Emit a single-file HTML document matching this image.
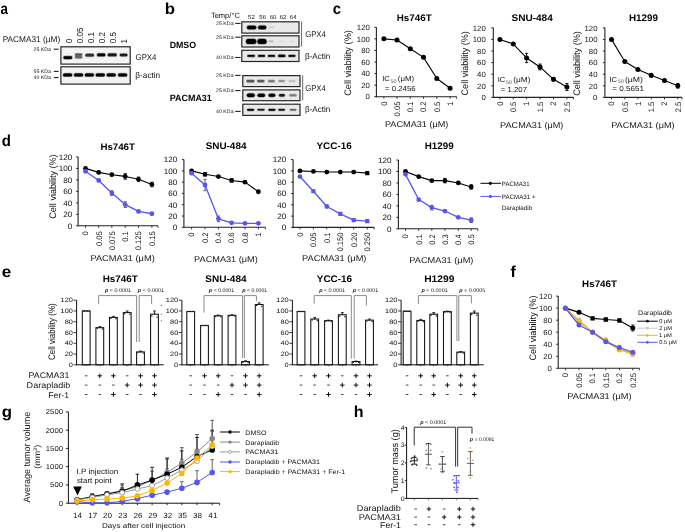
<!DOCTYPE html><html><head><meta charset="utf-8"><title>Figure</title><style>html,body{margin:0;padding:0;background:#fff;overflow:hidden;}svg{display:block;will-change:transform;}text{font-family:"Liberation Sans",sans-serif;text-rendering:geometricPrecision;}</style></head><body>
<svg width="685" height="532" viewBox="0 0 685 532" font-family="Liberation Sans, sans-serif">
<defs><filter id="bl" x="-50%" y="-100%" width="200%" height="300%"><feGaussianBlur stdDeviation="0.7"/></filter></defs>
<rect width="685" height="532" fill="#fff"/>
<text x="0.55" y="14.00" font-size="15.8" font-weight="bold" fill="#000" textLength="7.48" lengthAdjust="spacingAndGlyphs">a</text>
<text x="164.76" y="13.60" font-size="15.8" font-weight="bold" fill="#000" textLength="10.28" lengthAdjust="spacingAndGlyphs">b</text>
<text x="332.66" y="13.60" font-size="15.8" font-weight="bold" fill="#000" textLength="8.26" lengthAdjust="spacingAndGlyphs">c</text>
<text x="1.65" y="146.20" font-size="15.8" font-weight="bold" fill="#000" textLength="9.19" lengthAdjust="spacingAndGlyphs">d</text>
<text x="1.67" y="276.80" font-size="15.8" font-weight="bold" fill="#000" textLength="9.50" lengthAdjust="spacingAndGlyphs">e</text>
<text x="510.51" y="276.60" font-size="15.8" font-weight="bold" fill="#000" textLength="5.31" lengthAdjust="spacingAndGlyphs">f</text>
<text x="1.68" y="417.20" font-size="15.8" font-weight="bold" fill="#000" textLength="10.28" lengthAdjust="spacingAndGlyphs">g</text>
<text x="353.73" y="417.20" font-size="15.8" font-weight="bold" fill="#000" textLength="9.80" lengthAdjust="spacingAndGlyphs">h</text>
<text x="2.69" y="42.00" font-size="8.3" fill="#111" textLength="57.48" lengthAdjust="spacingAndGlyphs">PACMA31 (μM)</text>
<text transform="translate(72.14,43.17) scale(1.1,1) rotate(-90)" font-size="7.9" fill="#111" textLength="4.48" lengthAdjust="spacingAndGlyphs">0</text>
<text transform="translate(83.14,43.17) scale(1.1,1) rotate(-90)" font-size="7.9" fill="#111" textLength="15.68" lengthAdjust="spacingAndGlyphs">0.05</text>
<text transform="translate(93.94,43.17) scale(1.1,1) rotate(-90)" font-size="7.9" fill="#111" textLength="11.20" lengthAdjust="spacingAndGlyphs">0.1</text>
<text transform="translate(104.74,43.17) scale(1.1,1) rotate(-90)" font-size="7.9" fill="#111" textLength="11.20" lengthAdjust="spacingAndGlyphs">0.2</text>
<text transform="translate(115.84,43.17) scale(1.1,1) rotate(-90)" font-size="7.9" fill="#111" textLength="11.20" lengthAdjust="spacingAndGlyphs">0.5</text>
<text transform="translate(127.04,43.45) scale(1.1,1) rotate(-90)" font-size="7.9" fill="#111" textLength="4.48" lengthAdjust="spacingAndGlyphs">1</text>
<rect x="60.90" y="46.80" width="69.30" height="17.30" fill="#f4f4f4" stroke="#262626" stroke-width="1.2"/>
<rect x="60.90" y="66.80" width="69.30" height="17.30" fill="#f2f2f2" stroke="#262626" stroke-width="1.2"/>
<rect x="62.60" y="55.30" width="10.40" height="4.60" rx="2.30" fill="#000" opacity="0.160"/>
<rect x="63.05" y="55.75" width="9.50" height="3.70" rx="1.85" fill="#000" opacity="0.320"/>
<rect x="63.50" y="56.20" width="8.60" height="2.80" rx="1.40" fill="#000" opacity="1.0"/>
<rect x="74.10" y="52.50" width="9.00" height="4.20" rx="2.10" fill="#333" opacity="0.115"/>
<rect x="74.55" y="52.95" width="8.10" height="3.30" rx="1.65" fill="#333" opacity="0.230"/>
<rect x="75.00" y="53.40" width="7.20" height="2.40" rx="1.20" fill="#333" opacity="0.72"/>
<rect x="74.10" y="55.10" width="9.00" height="4.20" rx="2.10" fill="#444" opacity="0.109"/>
<rect x="74.55" y="55.55" width="8.10" height="3.30" rx="1.65" fill="#444" opacity="0.218"/>
<rect x="75.00" y="56.00" width="7.20" height="2.40" rx="1.20" fill="#444" opacity="0.68"/>
<rect x="84.60" y="52.90" width="10.20" height="4.60" rx="2.30" fill="#222" opacity="0.144"/>
<rect x="85.05" y="53.35" width="9.30" height="3.70" rx="1.85" fill="#222" opacity="0.288"/>
<rect x="85.50" y="53.80" width="8.40" height="2.80" rx="1.40" fill="#222" opacity="0.9"/>
<rect x="96.20" y="52.60" width="10.00" height="4.60" rx="2.30" fill="#000" opacity="0.160"/>
<rect x="96.65" y="53.05" width="9.10" height="3.70" rx="1.85" fill="#000" opacity="0.320"/>
<rect x="97.10" y="53.50" width="8.20" height="2.80" rx="1.40" fill="#000" opacity="1.0"/>
<rect x="106.80" y="52.60" width="10.80" height="4.60" rx="2.30" fill="#111" opacity="0.152"/>
<rect x="107.25" y="53.05" width="9.90" height="3.70" rx="1.85" fill="#111" opacity="0.304"/>
<rect x="107.70" y="53.50" width="9.00" height="2.80" rx="1.40" fill="#111" opacity="0.95"/>
<rect x="118.90" y="52.80" width="9.40" height="4.40" rx="2.20" fill="#111" opacity="0.144"/>
<rect x="119.35" y="53.25" width="8.50" height="3.50" rx="1.75" fill="#111" opacity="0.288"/>
<rect x="119.80" y="53.70" width="7.60" height="2.60" rx="1.30" fill="#111" opacity="0.9"/>
<rect x="62.20" y="72.50" width="10.80" height="4.80" rx="2.40" fill="#000" opacity="0.160"/>
<rect x="62.65" y="72.95" width="9.90" height="3.90" rx="1.95" fill="#000" opacity="0.320"/>
<rect x="63.10" y="73.40" width="9.00" height="3.00" rx="1.50" fill="#000" opacity="1.0"/>
<rect x="73.10" y="72.50" width="10.80" height="4.80" rx="2.40" fill="#000" opacity="0.160"/>
<rect x="73.55" y="72.95" width="9.90" height="3.90" rx="1.95" fill="#000" opacity="0.320"/>
<rect x="74.00" y="73.40" width="9.00" height="3.00" rx="1.50" fill="#000" opacity="1.0"/>
<rect x="84.00" y="72.50" width="10.80" height="4.80" rx="2.40" fill="#000" opacity="0.160"/>
<rect x="84.45" y="72.95" width="9.90" height="3.90" rx="1.95" fill="#000" opacity="0.320"/>
<rect x="84.90" y="73.40" width="9.00" height="3.00" rx="1.50" fill="#000" opacity="1.0"/>
<rect x="94.90" y="72.50" width="10.80" height="4.80" rx="2.40" fill="#000" opacity="0.160"/>
<rect x="95.35" y="72.95" width="9.90" height="3.90" rx="1.95" fill="#000" opacity="0.320"/>
<rect x="95.80" y="73.40" width="9.00" height="3.00" rx="1.50" fill="#000" opacity="1.0"/>
<rect x="105.80" y="72.50" width="10.80" height="4.80" rx="2.40" fill="#000" opacity="0.160"/>
<rect x="106.25" y="72.95" width="9.90" height="3.90" rx="1.95" fill="#000" opacity="0.320"/>
<rect x="106.70" y="73.40" width="9.00" height="3.00" rx="1.50" fill="#000" opacity="1.0"/>
<rect x="117.20" y="72.50" width="10.80" height="4.80" rx="2.40" fill="#000" opacity="0.160"/>
<rect x="117.65" y="72.95" width="9.90" height="3.90" rx="1.95" fill="#000" opacity="0.320"/>
<rect x="118.10" y="73.40" width="9.00" height="3.00" rx="1.50" fill="#000" opacity="1.0"/>
<text x="33.49" y="51.00" font-size="5.0" fill="#111" textLength="17.51" lengthAdjust="spacingAndGlyphs">25 KDa</text>
<line x1="53.80" y1="49.20" x2="58.60" y2="49.20" stroke="#222" stroke-width="1.1"/>
<text x="33.49" y="73.20" font-size="5.0" fill="#111" textLength="17.51" lengthAdjust="spacingAndGlyphs">55 KDa</text>
<line x1="53.80" y1="71.40" x2="58.60" y2="71.40" stroke="#222" stroke-width="1.1"/>
<text x="33.49" y="79.40" font-size="5.0" fill="#111" textLength="17.51" lengthAdjust="spacingAndGlyphs">40 KDa</text>
<line x1="53.80" y1="77.60" x2="58.60" y2="77.60" stroke="#222" stroke-width="1.1"/>
<text x="135.56" y="60.00" font-size="8.3" fill="#111" textLength="20.85" lengthAdjust="spacingAndGlyphs">GPX4</text>
<text x="135.37" y="78.30" font-size="8.3" fill="#111" textLength="24.81" lengthAdjust="spacingAndGlyphs">β-actin</text>
<text x="210.90" y="18.00" font-size="7.6" fill="#111" textLength="28.95" lengthAdjust="spacingAndGlyphs">Temp/°C</text>
<text x="248.05" y="18.50" font-size="5.8" fill="#111" textLength="6.77" lengthAdjust="spacingAndGlyphs">52</text>
<text x="259.34" y="18.50" font-size="5.8" fill="#111" textLength="6.77" lengthAdjust="spacingAndGlyphs">56</text>
<text x="269.69" y="18.50" font-size="5.8" fill="#111" textLength="6.77" lengthAdjust="spacingAndGlyphs">60</text>
<text x="279.72" y="18.50" font-size="5.8" fill="#111" textLength="6.77" lengthAdjust="spacingAndGlyphs">62</text>
<text x="289.86" y="18.50" font-size="5.8" fill="#111" textLength="6.77" lengthAdjust="spacingAndGlyphs">64</text>
<rect x="241.80" y="21.80" width="57.20" height="11.30" fill="#e9e9e9" stroke="#262626" stroke-width="1.2"/>
<rect x="241.80" y="35.80" width="57.20" height="11.20" fill="#e9e9e9" stroke="#262626" stroke-width="1.2"/>
<rect x="241.80" y="50.30" width="57.20" height="11.20" fill="#e9e9e9" stroke="#262626" stroke-width="1.2"/>
<rect x="246.10" y="24.75" width="11.00" height="5.40" rx="2.70" fill="#000" opacity="0.160"/>
<rect x="246.55" y="25.20" width="10.10" height="4.50" rx="2.25" fill="#000" opacity="0.320"/>
<rect x="247.00" y="25.65" width="9.20" height="3.60" rx="1.80" fill="#000" opacity="1"/>
<rect x="257.30" y="24.80" width="9.80" height="5.30" rx="2.65" fill="#000" opacity="0.160"/>
<rect x="257.75" y="25.25" width="8.90" height="4.40" rx="2.20" fill="#000" opacity="0.320"/>
<rect x="258.20" y="25.70" width="8.00" height="3.50" rx="1.75" fill="#000" opacity="1"/>
<rect x="268.45" y="25.95" width="6.30" height="3.00" rx="1.50" fill="#bbb" opacity="0.080"/>
<rect x="268.90" y="26.40" width="5.40" height="2.10" rx="1.05" fill="#bbb" opacity="0.160"/>
<rect x="269.35" y="26.85" width="4.50" height="1.20" rx="0.60" fill="#bbb" opacity="0.5"/>
<rect x="245.10" y="38.00" width="12.00" height="6.80" rx="3.40" fill="#000" opacity="0.160"/>
<rect x="245.55" y="38.45" width="11.10" height="5.90" rx="2.95" fill="#000" opacity="0.320"/>
<rect x="246.00" y="38.90" width="10.20" height="5.00" rx="2.50" fill="#000" opacity="1"/>
<rect x="256.60" y="38.00" width="10.80" height="6.80" rx="3.40" fill="#000" opacity="0.160"/>
<rect x="257.05" y="38.45" width="9.90" height="5.90" rx="2.95" fill="#000" opacity="0.320"/>
<rect x="257.50" y="38.90" width="9.00" height="5.00" rx="2.50" fill="#000" opacity="1"/>
<rect x="267.85" y="39.70" width="6.30" height="3.40" rx="1.70" fill="#aaa" opacity="0.096"/>
<rect x="268.30" y="40.15" width="5.40" height="2.50" rx="1.25" fill="#aaa" opacity="0.192"/>
<rect x="268.75" y="40.60" width="4.50" height="1.60" rx="0.80" fill="#aaa" opacity="0.6"/>
<rect x="278.60" y="39.90" width="6.80" height="3.00" rx="1.50" fill="#ccc" opacity="0.056"/>
<rect x="279.05" y="40.35" width="5.90" height="2.10" rx="1.05" fill="#ccc" opacity="0.112"/>
<rect x="279.50" y="40.80" width="5.00" height="1.20" rx="0.60" fill="#ccc" opacity="0.35"/>
<rect x="288.60" y="39.90" width="6.80" height="3.00" rx="1.50" fill="#ccc" opacity="0.056"/>
<rect x="289.05" y="40.35" width="5.90" height="2.10" rx="1.05" fill="#ccc" opacity="0.112"/>
<rect x="289.50" y="40.80" width="5.00" height="1.20" rx="0.60" fill="#ccc" opacity="0.35"/>
<rect x="246.50" y="54.10" width="9.20" height="3.60" rx="1.80" fill="#000" opacity="0.152"/>
<rect x="246.95" y="54.55" width="8.30" height="2.70" rx="1.35" fill="#000" opacity="0.304"/>
<rect x="247.40" y="55.00" width="7.40" height="1.80" rx="0.90" fill="#000" opacity="0.95"/>
<rect x="257.10" y="54.10" width="8.80" height="3.60" rx="1.80" fill="#000" opacity="0.152"/>
<rect x="257.55" y="54.55" width="7.90" height="2.70" rx="1.35" fill="#000" opacity="0.304"/>
<rect x="258.00" y="55.00" width="7.00" height="1.80" rx="0.90" fill="#000" opacity="0.95"/>
<rect x="267.10" y="54.05" width="8.80" height="3.70" rx="1.85" fill="#000" opacity="0.152"/>
<rect x="267.55" y="54.50" width="7.90" height="2.80" rx="1.40" fill="#000" opacity="0.304"/>
<rect x="268.00" y="54.95" width="7.00" height="1.90" rx="0.95" fill="#000" opacity="0.95"/>
<rect x="277.20" y="53.85" width="9.00" height="4.10" rx="2.05" fill="#000" opacity="0.152"/>
<rect x="277.65" y="54.30" width="8.10" height="3.20" rx="1.60" fill="#000" opacity="0.304"/>
<rect x="278.10" y="54.75" width="7.20" height="2.30" rx="1.15" fill="#000" opacity="0.95"/>
<rect x="287.60" y="54.10" width="8.60" height="3.60" rx="1.80" fill="#000" opacity="0.152"/>
<rect x="288.05" y="54.55" width="7.70" height="2.70" rx="1.35" fill="#000" opacity="0.304"/>
<rect x="288.50" y="55.00" width="6.80" height="1.80" rx="0.90" fill="#000" opacity="0.95"/>
<line x1="301.60" y1="21.50" x2="301.60" y2="46.60" stroke="#555" stroke-width="0.9"/>
<text x="305.17" y="37.10" font-size="8.3" fill="#111" textLength="20.54" lengthAdjust="spacingAndGlyphs">GPX4</text>
<text x="304.98" y="59.00" font-size="8.3" fill="#111" textLength="25.41" lengthAdjust="spacingAndGlyphs">β-Actin</text>
<text x="216.09" y="25.20" font-size="5.0" fill="#111" textLength="17.51" lengthAdjust="spacingAndGlyphs">25 KDa</text>
<line x1="235.20" y1="23.40" x2="240.60" y2="23.40" stroke="#222" stroke-width="1.1"/>
<text x="216.09" y="39.00" font-size="5.0" fill="#111" textLength="17.51" lengthAdjust="spacingAndGlyphs">25 KDa</text>
<line x1="235.20" y1="37.20" x2="240.60" y2="37.20" stroke="#222" stroke-width="1.1"/>
<text x="216.09" y="59.30" font-size="5.0" fill="#111" textLength="17.51" lengthAdjust="spacingAndGlyphs">40 KDa</text>
<line x1="235.20" y1="57.50" x2="240.60" y2="57.50" stroke="#222" stroke-width="1.1"/>
<rect x="242.80" y="75.60" width="57.20" height="11.00" fill="#e9e9e9" stroke="#262626" stroke-width="1.2"/>
<rect x="242.80" y="89.90" width="57.20" height="10.80" fill="#e9e9e9" stroke="#262626" stroke-width="1.2"/>
<rect x="242.80" y="104.20" width="57.20" height="11.20" fill="#e9e9e9" stroke="#262626" stroke-width="1.2"/>
<rect x="245.60" y="79.00" width="9.60" height="4.20" rx="2.10" fill="#444" opacity="0.136"/>
<rect x="246.05" y="79.45" width="8.70" height="3.30" rx="1.65" fill="#444" opacity="0.272"/>
<rect x="246.50" y="79.90" width="7.80" height="2.40" rx="1.20" fill="#444" opacity="0.85"/>
<rect x="256.30" y="79.10" width="9.00" height="4.00" rx="2.00" fill="#444" opacity="0.128"/>
<rect x="256.75" y="79.55" width="8.10" height="3.10" rx="1.55" fill="#444" opacity="0.256"/>
<rect x="257.20" y="80.00" width="7.20" height="2.20" rx="1.10" fill="#444" opacity="0.8"/>
<rect x="267.30" y="79.10" width="8.40" height="4.00" rx="2.00" fill="#666" opacity="0.120"/>
<rect x="267.75" y="79.55" width="7.50" height="3.10" rx="1.55" fill="#666" opacity="0.240"/>
<rect x="268.20" y="80.00" width="6.60" height="2.20" rx="1.10" fill="#666" opacity="0.75"/>
<rect x="277.60" y="79.20" width="8.00" height="3.80" rx="1.90" fill="#777" opacity="0.104"/>
<rect x="278.05" y="79.65" width="7.10" height="2.90" rx="1.45" fill="#777" opacity="0.208"/>
<rect x="278.50" y="80.10" width="6.20" height="2.00" rx="1.00" fill="#777" opacity="0.65"/>
<rect x="287.70" y="79.30" width="8.40" height="3.60" rx="1.80" fill="#aaa" opacity="0.080"/>
<rect x="288.15" y="79.75" width="7.50" height="2.70" rx="1.35" fill="#aaa" opacity="0.160"/>
<rect x="288.60" y="80.20" width="6.60" height="1.80" rx="0.90" fill="#aaa" opacity="0.5"/>
<rect x="246.05" y="92.70" width="9.50" height="5.20" rx="2.60" fill="#000" opacity="0.160"/>
<rect x="246.50" y="93.15" width="8.60" height="4.30" rx="2.15" fill="#000" opacity="0.320"/>
<rect x="246.95" y="93.60" width="7.70" height="3.40" rx="1.70" fill="#000" opacity="1"/>
<rect x="256.75" y="92.80" width="9.10" height="5.00" rx="2.50" fill="#000" opacity="0.160"/>
<rect x="257.20" y="93.25" width="8.20" height="4.10" rx="2.05" fill="#000" opacity="0.320"/>
<rect x="257.65" y="93.70" width="7.30" height="3.20" rx="1.60" fill="#000" opacity="1"/>
<rect x="267.75" y="92.90" width="8.30" height="4.80" rx="2.40" fill="#000" opacity="0.160"/>
<rect x="268.20" y="93.35" width="7.40" height="3.90" rx="1.95" fill="#000" opacity="0.320"/>
<rect x="268.65" y="93.80" width="6.50" height="3.00" rx="1.50" fill="#000" opacity="1"/>
<rect x="278.20" y="93.20" width="7.40" height="4.20" rx="2.10" fill="#111" opacity="0.152"/>
<rect x="278.65" y="93.65" width="6.50" height="3.30" rx="1.65" fill="#111" opacity="0.304"/>
<rect x="279.10" y="94.10" width="5.60" height="2.40" rx="1.20" fill="#111" opacity="0.95"/>
<rect x="288.65" y="93.40" width="8.70" height="3.80" rx="1.90" fill="#666" opacity="0.120"/>
<rect x="289.10" y="93.85" width="7.80" height="2.90" rx="1.45" fill="#666" opacity="0.240"/>
<rect x="289.55" y="94.30" width="6.90" height="2.00" rx="1.00" fill="#666" opacity="0.75"/>
<rect x="246.25" y="108.00" width="8.70" height="3.60" rx="1.80" fill="#000" opacity="0.152"/>
<rect x="246.70" y="108.45" width="7.80" height="2.70" rx="1.35" fill="#000" opacity="0.304"/>
<rect x="247.15" y="108.90" width="6.90" height="1.80" rx="0.90" fill="#000" opacity="0.95"/>
<rect x="256.65" y="108.10" width="8.70" height="3.40" rx="1.70" fill="#111" opacity="0.144"/>
<rect x="257.10" y="108.55" width="7.80" height="2.50" rx="1.25" fill="#111" opacity="0.288"/>
<rect x="257.55" y="109.00" width="6.90" height="1.60" rx="0.80" fill="#111" opacity="0.9"/>
<rect x="267.55" y="108.00" width="8.70" height="3.60" rx="1.80" fill="#000" opacity="0.152"/>
<rect x="268.00" y="108.45" width="7.80" height="2.70" rx="1.35" fill="#000" opacity="0.304"/>
<rect x="268.45" y="108.90" width="6.90" height="1.80" rx="0.90" fill="#000" opacity="0.95"/>
<rect x="277.50" y="108.05" width="8.20" height="3.50" rx="1.75" fill="#111" opacity="0.144"/>
<rect x="277.95" y="108.50" width="7.30" height="2.60" rx="1.30" fill="#111" opacity="0.288"/>
<rect x="278.40" y="108.95" width="6.40" height="1.70" rx="0.85" fill="#111" opacity="0.9"/>
<rect x="289.00" y="108.20" width="8.00" height="3.20" rx="1.60" fill="#444" opacity="0.120"/>
<rect x="289.45" y="108.65" width="7.10" height="2.30" rx="1.15" fill="#444" opacity="0.240"/>
<rect x="289.90" y="109.10" width="6.20" height="1.40" rx="0.70" fill="#444" opacity="0.75"/>
<line x1="302.70" y1="75.30" x2="302.70" y2="100.30" stroke="#555" stroke-width="0.9"/>
<text x="305.17" y="91.20" font-size="8.3" fill="#111" textLength="20.54" lengthAdjust="spacingAndGlyphs">GPX4</text>
<text x="304.98" y="112.00" font-size="8.3" fill="#111" textLength="25.41" lengthAdjust="spacingAndGlyphs">β-Actin</text>
<text x="216.09" y="77.20" font-size="5.0" fill="#111" textLength="17.51" lengthAdjust="spacingAndGlyphs">25 KDa</text>
<line x1="235.20" y1="75.40" x2="240.60" y2="75.40" stroke="#222" stroke-width="1.1"/>
<text x="216.09" y="92.40" font-size="5.0" fill="#111" textLength="17.51" lengthAdjust="spacingAndGlyphs">25 KDa</text>
<line x1="235.20" y1="90.60" x2="240.60" y2="90.60" stroke="#222" stroke-width="1.1"/>
<text x="216.09" y="113.20" font-size="5.0" fill="#111" textLength="17.51" lengthAdjust="spacingAndGlyphs">40 KDa</text>
<line x1="235.20" y1="111.40" x2="240.60" y2="111.40" stroke="#222" stroke-width="1.1"/>
<text x="169.68" y="48.30" font-size="9.0" font-weight="bold" fill="#000" textLength="26.37" lengthAdjust="spacingAndGlyphs">DMSO</text>
<text x="169.77" y="100.50" font-size="9.0" font-weight="bold" fill="#000" textLength="42.00" lengthAdjust="spacingAndGlyphs">PACMA31</text>
<line x1="376.40" y1="97.20" x2="376.40" y2="27.30" stroke="#222" stroke-width="1.1"/>
<line x1="374.40" y1="96.70" x2="376.40" y2="96.70" stroke="#111" stroke-width="0.9"/>
<text x="365.53" y="99.40" font-size="7.5" fill="#111" textLength="4.34" lengthAdjust="spacingAndGlyphs">0</text>
<line x1="374.40" y1="85.13" x2="376.40" y2="85.13" stroke="#111" stroke-width="0.9"/>
<text x="361.20" y="87.83" font-size="7.5" fill="#111" textLength="8.68" lengthAdjust="spacingAndGlyphs">20</text>
<line x1="374.40" y1="73.57" x2="376.40" y2="73.57" stroke="#111" stroke-width="0.9"/>
<text x="361.20" y="76.27" font-size="7.5" fill="#111" textLength="8.68" lengthAdjust="spacingAndGlyphs">40</text>
<line x1="374.40" y1="62.00" x2="376.40" y2="62.00" stroke="#111" stroke-width="0.9"/>
<text x="361.20" y="64.70" font-size="7.5" fill="#111" textLength="8.68" lengthAdjust="spacingAndGlyphs">60</text>
<line x1="374.40" y1="50.43" x2="376.40" y2="50.43" stroke="#111" stroke-width="0.9"/>
<text x="361.20" y="53.13" font-size="7.5" fill="#111" textLength="8.68" lengthAdjust="spacingAndGlyphs">80</text>
<line x1="374.40" y1="38.87" x2="376.40" y2="38.87" stroke="#111" stroke-width="0.9"/>
<text x="356.87" y="41.57" font-size="7.5" fill="#111" textLength="13.01" lengthAdjust="spacingAndGlyphs">100</text>
<line x1="374.40" y1="27.30" x2="376.40" y2="27.30" stroke="#111" stroke-width="0.9"/>
<text x="356.87" y="30.00" font-size="7.5" fill="#111" textLength="13.01" lengthAdjust="spacingAndGlyphs">120</text>
<line x1="376.40" y1="96.70" x2="456.60" y2="96.70" stroke="#222" stroke-width="1.1"/>
<line x1="383.90" y1="96.70" x2="383.90" y2="98.70" stroke="#222" stroke-width="0.9"/>
<line x1="397.00" y1="96.70" x2="397.00" y2="98.70" stroke="#222" stroke-width="0.9"/>
<line x1="410.30" y1="96.70" x2="410.30" y2="98.70" stroke="#222" stroke-width="0.9"/>
<line x1="423.50" y1="96.70" x2="423.50" y2="98.70" stroke="#222" stroke-width="0.9"/>
<line x1="436.80" y1="96.70" x2="436.80" y2="98.70" stroke="#222" stroke-width="0.9"/>
<line x1="450.10" y1="96.70" x2="450.10" y2="98.70" stroke="#222" stroke-width="0.9"/>
<line x1="456.60" y1="96.70" x2="456.60" y2="98.70" stroke="#222" stroke-width="0.9"/>
<polyline points="383.90,38.87 397.00,40.02 410.30,48.70 423.50,57.37 436.80,78.48 450.10,88.31" fill="none" stroke="#000" stroke-width="1.1" stroke-linejoin="round"/>
<circle cx="383.90" cy="38.87" r="2.5" fill="#000" stroke="none" stroke-width="0"/>
<circle cx="397.00" cy="40.02" r="2.5" fill="#000" stroke="none" stroke-width="0"/>
<circle cx="410.30" cy="48.70" r="2.5" fill="#000" stroke="none" stroke-width="0"/>
<circle cx="423.50" cy="57.37" r="2.5" fill="#000" stroke="none" stroke-width="0"/>
<circle cx="436.80" cy="78.48" r="2.5" fill="#000" stroke="none" stroke-width="0"/>
<circle cx="450.10" cy="88.31" r="2.5" fill="#000" stroke="none" stroke-width="0"/>
<text x="396.71" y="21.00" font-size="9.5" font-weight="bold" fill="#000" textLength="34.96" lengthAdjust="spacingAndGlyphs">Hs746T</text>
<text transform="translate(386.71,105.86) scale(1.1,1) rotate(-90)" font-size="7.3" fill="#111" textLength="4.22" lengthAdjust="spacingAndGlyphs">0</text>
<text transform="translate(399.81,116.41) scale(1.1,1) rotate(-90)" font-size="7.3" fill="#111" textLength="14.78" lengthAdjust="spacingAndGlyphs">0.05</text>
<text transform="translate(413.11,112.16) scale(1.1,1) rotate(-90)" font-size="7.3" fill="#111" textLength="10.55" lengthAdjust="spacingAndGlyphs">0.1</text>
<text transform="translate(426.31,112.12) scale(1.1,1) rotate(-90)" font-size="7.3" fill="#111" textLength="10.55" lengthAdjust="spacingAndGlyphs">0.2</text>
<text transform="translate(439.61,112.20) scale(1.1,1) rotate(-90)" font-size="7.3" fill="#111" textLength="10.55" lengthAdjust="spacingAndGlyphs">0.5</text>
<text transform="translate(452.91,105.82) scale(1.1,1) rotate(-90)" font-size="7.3" fill="#111" textLength="4.22" lengthAdjust="spacingAndGlyphs">1</text>
<text x="384.92" y="126.90" font-size="8.4" fill="#111" textLength="63.50" lengthAdjust="spacingAndGlyphs">PACMA31 (μM)</text>
<text transform="translate(351.44,95.81) scale(1.1,1) rotate(-90)" font-size="8.6" fill="#111" textLength="65.74" lengthAdjust="spacingAndGlyphs">Cell viability (%)</text>
<text x="382.21" y="81.00" font-size="7.2" fill="#111" textLength="7.63" lengthAdjust="spacingAndGlyphs">IC</text>
<text x="390.49" y="82.60" font-size="5.2" fill="#444" textLength="5.90" lengthAdjust="spacingAndGlyphs">50</text>
<text x="397.78" y="81.00" font-size="7.2" fill="#111" textLength="16.28" lengthAdjust="spacingAndGlyphs">(μM)</text>
<text x="384.96" y="90.60" font-size="7.2" fill="#111" textLength="30.65" lengthAdjust="spacingAndGlyphs">= 0.2456</text>
<line x1="493.30" y1="97.90" x2="493.30" y2="27.80" stroke="#222" stroke-width="1.1"/>
<line x1="491.30" y1="97.40" x2="493.30" y2="97.40" stroke="#111" stroke-width="0.9"/>
<text x="481.43" y="100.10" font-size="7.5" fill="#111" textLength="4.34" lengthAdjust="spacingAndGlyphs">0</text>
<line x1="491.30" y1="85.80" x2="493.30" y2="85.80" stroke="#111" stroke-width="0.9"/>
<text x="477.10" y="88.50" font-size="7.5" fill="#111" textLength="8.68" lengthAdjust="spacingAndGlyphs">20</text>
<line x1="491.30" y1="74.20" x2="493.30" y2="74.20" stroke="#111" stroke-width="0.9"/>
<text x="477.10" y="76.90" font-size="7.5" fill="#111" textLength="8.68" lengthAdjust="spacingAndGlyphs">40</text>
<line x1="491.30" y1="62.60" x2="493.30" y2="62.60" stroke="#111" stroke-width="0.9"/>
<text x="477.10" y="65.30" font-size="7.5" fill="#111" textLength="8.68" lengthAdjust="spacingAndGlyphs">60</text>
<line x1="491.30" y1="51.00" x2="493.30" y2="51.00" stroke="#111" stroke-width="0.9"/>
<text x="477.10" y="53.70" font-size="7.5" fill="#111" textLength="8.68" lengthAdjust="spacingAndGlyphs">80</text>
<line x1="491.30" y1="39.40" x2="493.30" y2="39.40" stroke="#111" stroke-width="0.9"/>
<text x="472.77" y="42.10" font-size="7.5" fill="#111" textLength="13.01" lengthAdjust="spacingAndGlyphs">100</text>
<line x1="491.30" y1="27.80" x2="493.30" y2="27.80" stroke="#111" stroke-width="0.9"/>
<text x="472.77" y="30.50" font-size="7.5" fill="#111" textLength="13.01" lengthAdjust="spacingAndGlyphs">120</text>
<line x1="493.30" y1="97.40" x2="573.40" y2="97.40" stroke="#222" stroke-width="1.1"/>
<line x1="499.90" y1="97.40" x2="499.90" y2="99.40" stroke="#222" stroke-width="0.9"/>
<line x1="513.30" y1="97.40" x2="513.30" y2="99.40" stroke="#222" stroke-width="0.9"/>
<line x1="526.60" y1="97.40" x2="526.60" y2="99.40" stroke="#222" stroke-width="0.9"/>
<line x1="540.00" y1="97.40" x2="540.00" y2="99.40" stroke="#222" stroke-width="0.9"/>
<line x1="553.50" y1="97.40" x2="553.50" y2="99.40" stroke="#222" stroke-width="0.9"/>
<line x1="566.90" y1="97.40" x2="566.90" y2="99.40" stroke="#222" stroke-width="0.9"/>
<line x1="573.40" y1="97.40" x2="573.40" y2="99.40" stroke="#222" stroke-width="0.9"/>
<polyline points="499.90,39.40 513.30,44.04 526.60,57.96 540.00,66.95 553.50,79.30 566.90,86.96" fill="none" stroke="#000" stroke-width="1.1" stroke-linejoin="round"/>
<line x1="513.30" y1="43.17" x2="513.30" y2="44.91" stroke="#000" stroke-width="0.9"/>
<line x1="511.70" y1="43.17" x2="514.90" y2="43.17" stroke="#000" stroke-width="0.9"/>
<line x1="511.70" y1="44.91" x2="514.90" y2="44.91" stroke="#000" stroke-width="0.9"/>
<line x1="526.60" y1="53.32" x2="526.60" y2="62.60" stroke="#000" stroke-width="0.9"/>
<line x1="525.00" y1="53.32" x2="528.20" y2="53.32" stroke="#000" stroke-width="0.9"/>
<line x1="525.00" y1="62.60" x2="528.20" y2="62.60" stroke="#000" stroke-width="0.9"/>
<line x1="540.00" y1="64.05" x2="540.00" y2="69.85" stroke="#000" stroke-width="0.9"/>
<line x1="538.40" y1="64.05" x2="541.60" y2="64.05" stroke="#000" stroke-width="0.9"/>
<line x1="538.40" y1="69.85" x2="541.60" y2="69.85" stroke="#000" stroke-width="0.9"/>
<line x1="553.50" y1="77.56" x2="553.50" y2="81.04" stroke="#000" stroke-width="0.9"/>
<line x1="551.90" y1="77.56" x2="555.10" y2="77.56" stroke="#000" stroke-width="0.9"/>
<line x1="551.90" y1="81.04" x2="555.10" y2="81.04" stroke="#000" stroke-width="0.9"/>
<line x1="566.90" y1="83.48" x2="566.90" y2="90.44" stroke="#000" stroke-width="0.9"/>
<line x1="565.30" y1="83.48" x2="568.50" y2="83.48" stroke="#000" stroke-width="0.9"/>
<line x1="565.30" y1="90.44" x2="568.50" y2="90.44" stroke="#000" stroke-width="0.9"/>
<circle cx="499.90" cy="39.40" r="2.5" fill="#000" stroke="none" stroke-width="0"/>
<circle cx="513.30" cy="44.04" r="2.5" fill="#000" stroke="none" stroke-width="0"/>
<circle cx="526.60" cy="57.96" r="2.5" fill="#000" stroke="none" stroke-width="0"/>
<circle cx="540.00" cy="66.95" r="2.5" fill="#000" stroke="none" stroke-width="0"/>
<circle cx="553.50" cy="79.30" r="2.5" fill="#000" stroke="none" stroke-width="0"/>
<circle cx="566.90" cy="86.96" r="2.5" fill="#000" stroke="none" stroke-width="0"/>
<text x="511.45" y="21.20" font-size="9.5" font-weight="bold" fill="#000" textLength="41.38" lengthAdjust="spacingAndGlyphs">SNU-484</text>
<text transform="translate(502.71,105.86) scale(1.1,1) rotate(-90)" font-size="7.3" fill="#111" textLength="4.22" lengthAdjust="spacingAndGlyphs">0</text>
<text transform="translate(516.11,112.20) scale(1.1,1) rotate(-90)" font-size="7.3" fill="#111" textLength="10.55" lengthAdjust="spacingAndGlyphs">0.5</text>
<text transform="translate(529.41,105.82) scale(1.1,1) rotate(-90)" font-size="7.3" fill="#111" textLength="4.22" lengthAdjust="spacingAndGlyphs">1</text>
<text transform="translate(542.81,112.20) scale(1.1,1) rotate(-90)" font-size="7.3" fill="#111" textLength="10.55" lengthAdjust="spacingAndGlyphs">1.5</text>
<text transform="translate(556.31,105.78) scale(1.1,1) rotate(-90)" font-size="7.3" fill="#111" textLength="4.22" lengthAdjust="spacingAndGlyphs">2</text>
<text transform="translate(569.71,112.20) scale(1.1,1) rotate(-90)" font-size="7.3" fill="#111" textLength="10.55" lengthAdjust="spacingAndGlyphs">2.5</text>
<text x="500.12" y="127.60" font-size="8.4" fill="#111" textLength="63.30" lengthAdjust="spacingAndGlyphs">PACMA31 (μM)</text>
<text transform="translate(467.64,95.40) scale(1.1,1) rotate(-90)" font-size="8.6" fill="#111" textLength="64.22" lengthAdjust="spacingAndGlyphs">Cell viability (%)</text>
<text x="497.71" y="82.20" font-size="7.2" fill="#111" textLength="7.63" lengthAdjust="spacingAndGlyphs">IC</text>
<text x="505.99" y="83.80" font-size="5.2" fill="#444" textLength="5.90" lengthAdjust="spacingAndGlyphs">50</text>
<text x="513.25" y="82.20" font-size="7.2" fill="#111" textLength="17.24" lengthAdjust="spacingAndGlyphs">(μM)</text>
<text x="500.86" y="91.50" font-size="7.2" fill="#111" textLength="26.17" lengthAdjust="spacingAndGlyphs">= 1.207</text>
<line x1="604.90" y1="97.90" x2="604.90" y2="27.80" stroke="#222" stroke-width="1.1"/>
<line x1="602.90" y1="97.40" x2="604.90" y2="97.40" stroke="#111" stroke-width="0.9"/>
<text x="593.13" y="100.10" font-size="7.5" fill="#111" textLength="4.34" lengthAdjust="spacingAndGlyphs">0</text>
<line x1="602.90" y1="85.80" x2="604.90" y2="85.80" stroke="#111" stroke-width="0.9"/>
<text x="588.80" y="88.50" font-size="7.5" fill="#111" textLength="8.68" lengthAdjust="spacingAndGlyphs">20</text>
<line x1="602.90" y1="74.20" x2="604.90" y2="74.20" stroke="#111" stroke-width="0.9"/>
<text x="588.80" y="76.90" font-size="7.5" fill="#111" textLength="8.68" lengthAdjust="spacingAndGlyphs">40</text>
<line x1="602.90" y1="62.60" x2="604.90" y2="62.60" stroke="#111" stroke-width="0.9"/>
<text x="588.80" y="65.30" font-size="7.5" fill="#111" textLength="8.68" lengthAdjust="spacingAndGlyphs">60</text>
<line x1="602.90" y1="51.00" x2="604.90" y2="51.00" stroke="#111" stroke-width="0.9"/>
<text x="588.80" y="53.70" font-size="7.5" fill="#111" textLength="8.68" lengthAdjust="spacingAndGlyphs">80</text>
<line x1="602.90" y1="39.40" x2="604.90" y2="39.40" stroke="#111" stroke-width="0.9"/>
<text x="584.48" y="42.10" font-size="7.5" fill="#111" textLength="13.01" lengthAdjust="spacingAndGlyphs">100</text>
<line x1="602.90" y1="27.80" x2="604.90" y2="27.80" stroke="#111" stroke-width="0.9"/>
<text x="584.48" y="30.50" font-size="7.5" fill="#111" textLength="13.01" lengthAdjust="spacingAndGlyphs">120</text>
<line x1="604.90" y1="97.40" x2="682.00" y2="97.40" stroke="#222" stroke-width="1.1"/>
<line x1="611.50" y1="97.40" x2="611.50" y2="99.40" stroke="#222" stroke-width="0.9"/>
<line x1="624.80" y1="97.40" x2="624.80" y2="99.40" stroke="#222" stroke-width="0.9"/>
<line x1="637.90" y1="97.40" x2="637.90" y2="99.40" stroke="#222" stroke-width="0.9"/>
<line x1="651.20" y1="97.40" x2="651.20" y2="99.40" stroke="#222" stroke-width="0.9"/>
<line x1="664.50" y1="97.40" x2="664.50" y2="99.40" stroke="#222" stroke-width="0.9"/>
<line x1="677.80" y1="97.40" x2="677.80" y2="99.40" stroke="#222" stroke-width="0.9"/>
<line x1="682.00" y1="97.40" x2="682.00" y2="99.40" stroke="#222" stroke-width="0.9"/>
<polyline points="611.50,39.40 624.80,61.44 637.90,69.56 651.20,75.36 664.50,80.58 677.80,85.80" fill="none" stroke="#000" stroke-width="1.1" stroke-linejoin="round"/>
<line x1="624.80" y1="60.57" x2="624.80" y2="62.31" stroke="#000" stroke-width="0.9"/>
<line x1="623.20" y1="60.57" x2="626.40" y2="60.57" stroke="#000" stroke-width="0.9"/>
<line x1="623.20" y1="62.31" x2="626.40" y2="62.31" stroke="#000" stroke-width="0.9"/>
<line x1="637.90" y1="68.69" x2="637.90" y2="70.43" stroke="#000" stroke-width="0.9"/>
<line x1="636.30" y1="68.69" x2="639.50" y2="68.69" stroke="#000" stroke-width="0.9"/>
<line x1="636.30" y1="70.43" x2="639.50" y2="70.43" stroke="#000" stroke-width="0.9"/>
<line x1="651.20" y1="73.62" x2="651.20" y2="77.10" stroke="#000" stroke-width="0.9"/>
<line x1="649.60" y1="73.62" x2="652.80" y2="73.62" stroke="#000" stroke-width="0.9"/>
<line x1="649.60" y1="77.10" x2="652.80" y2="77.10" stroke="#000" stroke-width="0.9"/>
<line x1="664.50" y1="79.42" x2="664.50" y2="81.74" stroke="#000" stroke-width="0.9"/>
<line x1="662.90" y1="79.42" x2="666.10" y2="79.42" stroke="#000" stroke-width="0.9"/>
<line x1="662.90" y1="81.74" x2="666.10" y2="81.74" stroke="#000" stroke-width="0.9"/>
<line x1="677.80" y1="83.48" x2="677.80" y2="88.12" stroke="#000" stroke-width="0.9"/>
<line x1="676.20" y1="83.48" x2="679.40" y2="83.48" stroke="#000" stroke-width="0.9"/>
<line x1="676.20" y1="88.12" x2="679.40" y2="88.12" stroke="#000" stroke-width="0.9"/>
<circle cx="611.50" cy="39.40" r="2.5" fill="#000" stroke="none" stroke-width="0"/>
<circle cx="624.80" cy="61.44" r="2.5" fill="#000" stroke="none" stroke-width="0"/>
<circle cx="637.90" cy="69.56" r="2.5" fill="#000" stroke="none" stroke-width="0"/>
<circle cx="651.20" cy="75.36" r="2.5" fill="#000" stroke="none" stroke-width="0"/>
<circle cx="664.50" cy="80.58" r="2.5" fill="#000" stroke="none" stroke-width="0"/>
<circle cx="677.80" cy="85.80" r="2.5" fill="#000" stroke="none" stroke-width="0"/>
<text x="629.01" y="21.20" font-size="9.5" font-weight="bold" fill="#000" textLength="29.00" lengthAdjust="spacingAndGlyphs">H1299</text>
<text transform="translate(614.31,105.86) scale(1.1,1) rotate(-90)" font-size="7.3" fill="#111" textLength="4.22" lengthAdjust="spacingAndGlyphs">0</text>
<text transform="translate(627.61,112.20) scale(1.1,1) rotate(-90)" font-size="7.3" fill="#111" textLength="10.55" lengthAdjust="spacingAndGlyphs">0.5</text>
<text transform="translate(640.71,105.82) scale(1.1,1) rotate(-90)" font-size="7.3" fill="#111" textLength="4.22" lengthAdjust="spacingAndGlyphs">1</text>
<text transform="translate(654.01,112.20) scale(1.1,1) rotate(-90)" font-size="7.3" fill="#111" textLength="10.55" lengthAdjust="spacingAndGlyphs">1.5</text>
<text transform="translate(667.31,105.78) scale(1.1,1) rotate(-90)" font-size="7.3" fill="#111" textLength="4.22" lengthAdjust="spacingAndGlyphs">2</text>
<text transform="translate(680.61,112.20) scale(1.1,1) rotate(-90)" font-size="7.3" fill="#111" textLength="10.55" lengthAdjust="spacingAndGlyphs">2.5</text>
<text x="611.22" y="127.60" font-size="8.4" fill="#111" textLength="63.30" lengthAdjust="spacingAndGlyphs">PACMA31 (μM)</text>
<text transform="translate(579.84,95.80) scale(1.1,1) rotate(-90)" font-size="8.6" fill="#111" textLength="64.62" lengthAdjust="spacingAndGlyphs">Cell viability (%)</text>
<text x="609.41" y="81.60" font-size="7.2" fill="#111" textLength="7.63" lengthAdjust="spacingAndGlyphs">IC</text>
<text x="617.69" y="83.20" font-size="5.2" fill="#444" textLength="5.90" lengthAdjust="spacingAndGlyphs">50</text>
<text x="624.93" y="81.60" font-size="7.2" fill="#111" textLength="18.09" lengthAdjust="spacingAndGlyphs">(μM)</text>
<text x="612.35" y="91.40" font-size="7.2" fill="#111" textLength="31.67" lengthAdjust="spacingAndGlyphs">= 0.5651</text>
<line x1="78.10" y1="226.30" x2="78.10" y2="156.90" stroke="#222" stroke-width="1.1"/>
<line x1="76.10" y1="225.80" x2="78.10" y2="225.80" stroke="#111" stroke-width="0.9"/>
<text x="67.87" y="228.61" font-size="7.8" fill="#111" textLength="4.51" lengthAdjust="spacingAndGlyphs">0</text>
<line x1="76.10" y1="214.32" x2="78.10" y2="214.32" stroke="#111" stroke-width="0.9"/>
<text x="63.37" y="217.12" font-size="7.8" fill="#111" textLength="9.02" lengthAdjust="spacingAndGlyphs">20</text>
<line x1="76.10" y1="202.83" x2="78.10" y2="202.83" stroke="#111" stroke-width="0.9"/>
<text x="63.37" y="205.64" font-size="7.8" fill="#111" textLength="9.02" lengthAdjust="spacingAndGlyphs">40</text>
<line x1="76.10" y1="191.35" x2="78.10" y2="191.35" stroke="#111" stroke-width="0.9"/>
<text x="63.37" y="194.16" font-size="7.8" fill="#111" textLength="9.02" lengthAdjust="spacingAndGlyphs">60</text>
<line x1="76.10" y1="179.87" x2="78.10" y2="179.87" stroke="#111" stroke-width="0.9"/>
<text x="63.37" y="182.67" font-size="7.8" fill="#111" textLength="9.02" lengthAdjust="spacingAndGlyphs">80</text>
<line x1="76.10" y1="168.38" x2="78.10" y2="168.38" stroke="#111" stroke-width="0.9"/>
<text x="58.87" y="171.19" font-size="7.8" fill="#111" textLength="13.53" lengthAdjust="spacingAndGlyphs">100</text>
<line x1="76.10" y1="156.90" x2="78.10" y2="156.90" stroke="#111" stroke-width="0.9"/>
<text x="58.87" y="159.71" font-size="7.8" fill="#111" textLength="13.53" lengthAdjust="spacingAndGlyphs">120</text>
<line x1="78.10" y1="225.80" x2="158.00" y2="225.80" stroke="#222" stroke-width="1.1"/>
<line x1="85.50" y1="225.80" x2="85.50" y2="227.80" stroke="#222" stroke-width="0.9"/>
<line x1="98.70" y1="225.80" x2="98.70" y2="227.80" stroke="#222" stroke-width="0.9"/>
<line x1="111.80" y1="225.80" x2="111.80" y2="227.80" stroke="#222" stroke-width="0.9"/>
<line x1="125.20" y1="225.80" x2="125.20" y2="227.80" stroke="#222" stroke-width="0.9"/>
<line x1="138.50" y1="225.80" x2="138.50" y2="227.80" stroke="#222" stroke-width="0.9"/>
<line x1="151.90" y1="225.80" x2="151.90" y2="227.80" stroke="#222" stroke-width="0.9"/>
<line x1="158.00" y1="225.80" x2="158.00" y2="227.80" stroke="#222" stroke-width="0.9"/>
<polyline points="85.50,168.38 98.70,172.40 111.80,174.70 125.20,176.42 138.50,179.29 151.90,184.46" fill="none" stroke="#000" stroke-width="1.1" stroke-linejoin="round"/>
<line x1="98.70" y1="171.25" x2="98.70" y2="173.55" stroke="#222" stroke-width="0.9"/>
<line x1="97.10" y1="171.25" x2="100.30" y2="171.25" stroke="#222" stroke-width="0.9"/>
<line x1="97.10" y1="173.55" x2="100.30" y2="173.55" stroke="#222" stroke-width="0.9"/>
<line x1="111.80" y1="173.55" x2="111.80" y2="175.85" stroke="#222" stroke-width="0.9"/>
<line x1="110.20" y1="173.55" x2="113.40" y2="173.55" stroke="#222" stroke-width="0.9"/>
<line x1="110.20" y1="175.85" x2="113.40" y2="175.85" stroke="#222" stroke-width="0.9"/>
<line x1="125.20" y1="173.55" x2="125.20" y2="179.29" stroke="#222" stroke-width="0.9"/>
<line x1="123.60" y1="173.55" x2="126.80" y2="173.55" stroke="#222" stroke-width="0.9"/>
<line x1="123.60" y1="179.29" x2="126.80" y2="179.29" stroke="#222" stroke-width="0.9"/>
<line x1="138.50" y1="177.00" x2="138.50" y2="181.59" stroke="#222" stroke-width="0.9"/>
<line x1="136.90" y1="177.00" x2="140.10" y2="177.00" stroke="#222" stroke-width="0.9"/>
<line x1="136.90" y1="181.59" x2="140.10" y2="181.59" stroke="#222" stroke-width="0.9"/>
<line x1="151.90" y1="182.16" x2="151.90" y2="186.76" stroke="#222" stroke-width="0.9"/>
<line x1="150.30" y1="182.16" x2="153.50" y2="182.16" stroke="#222" stroke-width="0.9"/>
<line x1="150.30" y1="186.76" x2="153.50" y2="186.76" stroke="#222" stroke-width="0.9"/>
<circle cx="85.50" cy="168.38" r="2.4" fill="#000" stroke="none" stroke-width="0"/>
<circle cx="98.70" cy="172.40" r="2.4" fill="#000" stroke="none" stroke-width="0"/>
<circle cx="111.80" cy="174.70" r="2.4" fill="#000" stroke="none" stroke-width="0"/>
<circle cx="125.20" cy="176.42" r="2.4" fill="#000" stroke="none" stroke-width="0"/>
<circle cx="138.50" cy="179.29" r="2.4" fill="#000" stroke="none" stroke-width="0"/>
<circle cx="151.90" cy="184.46" r="2.4" fill="#000" stroke="none" stroke-width="0"/>
<polyline points="85.50,171.25 98.70,180.44 111.80,193.07 125.20,204.56 138.50,211.45 151.90,213.74" fill="none" stroke="#5555f4" stroke-width="1.3" stroke-linejoin="round"/>
<line x1="98.70" y1="179.29" x2="98.70" y2="181.59" stroke="#555" stroke-width="0.9"/>
<line x1="97.10" y1="179.29" x2="100.30" y2="179.29" stroke="#555" stroke-width="0.9"/>
<line x1="97.10" y1="181.59" x2="100.30" y2="181.59" stroke="#555" stroke-width="0.9"/>
<line x1="111.80" y1="190.78" x2="111.80" y2="195.37" stroke="#555" stroke-width="0.9"/>
<line x1="110.20" y1="190.78" x2="113.40" y2="190.78" stroke="#555" stroke-width="0.9"/>
<line x1="110.20" y1="195.37" x2="113.40" y2="195.37" stroke="#555" stroke-width="0.9"/>
<line x1="125.20" y1="201.69" x2="125.20" y2="207.43" stroke="#555" stroke-width="0.9"/>
<line x1="123.60" y1="201.69" x2="126.80" y2="201.69" stroke="#555" stroke-width="0.9"/>
<line x1="123.60" y1="207.43" x2="126.80" y2="207.43" stroke="#555" stroke-width="0.9"/>
<line x1="138.50" y1="210.30" x2="138.50" y2="212.59" stroke="#555" stroke-width="0.9"/>
<line x1="136.90" y1="210.30" x2="140.10" y2="210.30" stroke="#555" stroke-width="0.9"/>
<line x1="136.90" y1="212.59" x2="140.10" y2="212.59" stroke="#555" stroke-width="0.9"/>
<line x1="151.90" y1="213.17" x2="151.90" y2="214.32" stroke="#555" stroke-width="0.9"/>
<line x1="150.30" y1="213.17" x2="153.50" y2="213.17" stroke="#555" stroke-width="0.9"/>
<line x1="150.30" y1="214.32" x2="153.50" y2="214.32" stroke="#555" stroke-width="0.9"/>
<circle cx="85.50" cy="171.25" r="2.4" fill="#5555f4" stroke="none" stroke-width="0"/>
<circle cx="98.70" cy="180.44" r="2.4" fill="#5555f4" stroke="none" stroke-width="0"/>
<circle cx="111.80" cy="193.07" r="2.4" fill="#5555f4" stroke="none" stroke-width="0"/>
<circle cx="125.20" cy="204.56" r="2.4" fill="#5555f4" stroke="none" stroke-width="0"/>
<circle cx="138.50" cy="211.45" r="2.4" fill="#5555f4" stroke="none" stroke-width="0"/>
<circle cx="151.90" cy="213.74" r="2.4" fill="#5555f4" stroke="none" stroke-width="0"/>
<text x="100.42" y="149.70" font-size="9.5" font-weight="bold" fill="#000" textLength="34.56" lengthAdjust="spacingAndGlyphs">Hs746T</text>
<text transform="translate(88.31,235.46) scale(1.1,1) rotate(-90)" font-size="7.3" fill="#111" textLength="4.22" lengthAdjust="spacingAndGlyphs">0</text>
<text transform="translate(101.51,246.01) scale(1.1,1) rotate(-90)" font-size="7.3" fill="#111" textLength="14.78" lengthAdjust="spacingAndGlyphs">0.05</text>
<text transform="translate(114.61,250.23) scale(1.1,1) rotate(-90)" font-size="7.3" fill="#111" textLength="19.00" lengthAdjust="spacingAndGlyphs">0.075</text>
<text transform="translate(128.01,241.76) scale(1.1,1) rotate(-90)" font-size="7.3" fill="#111" textLength="10.55" lengthAdjust="spacingAndGlyphs">0.1</text>
<text transform="translate(141.31,250.23) scale(1.1,1) rotate(-90)" font-size="7.3" fill="#111" textLength="19.00" lengthAdjust="spacingAndGlyphs">0.125</text>
<text transform="translate(154.71,246.01) scale(1.1,1) rotate(-90)" font-size="7.3" fill="#111" textLength="14.78" lengthAdjust="spacingAndGlyphs">0.15</text>
<text x="90.41" y="261.30" font-size="8.4" fill="#111" textLength="64.32" lengthAdjust="spacingAndGlyphs">PACMA31 (μM)</text>
<text transform="translate(55.54,218.70) scale(1.1,1) rotate(-90)" font-size="8.6" fill="#111" textLength="64.32" lengthAdjust="spacingAndGlyphs">Cell viability (%)</text>
<line x1="183.90" y1="227.80" x2="183.90" y2="159.60" stroke="#222" stroke-width="1.1"/>
<line x1="181.90" y1="227.30" x2="183.90" y2="227.30" stroke="#111" stroke-width="0.9"/>
<text x="172.77" y="230.11" font-size="7.8" fill="#111" textLength="4.51" lengthAdjust="spacingAndGlyphs">0</text>
<line x1="181.90" y1="216.02" x2="183.90" y2="216.02" stroke="#111" stroke-width="0.9"/>
<text x="168.27" y="218.82" font-size="7.8" fill="#111" textLength="9.02" lengthAdjust="spacingAndGlyphs">20</text>
<line x1="181.90" y1="204.73" x2="183.90" y2="204.73" stroke="#111" stroke-width="0.9"/>
<text x="168.27" y="207.54" font-size="7.8" fill="#111" textLength="9.02" lengthAdjust="spacingAndGlyphs">40</text>
<line x1="181.90" y1="193.45" x2="183.90" y2="193.45" stroke="#111" stroke-width="0.9"/>
<text x="168.27" y="196.26" font-size="7.8" fill="#111" textLength="9.02" lengthAdjust="spacingAndGlyphs">60</text>
<line x1="181.90" y1="182.17" x2="183.90" y2="182.17" stroke="#111" stroke-width="0.9"/>
<text x="168.27" y="184.97" font-size="7.8" fill="#111" textLength="9.02" lengthAdjust="spacingAndGlyphs">80</text>
<line x1="181.90" y1="170.88" x2="183.90" y2="170.88" stroke="#111" stroke-width="0.9"/>
<text x="163.77" y="173.69" font-size="7.8" fill="#111" textLength="13.53" lengthAdjust="spacingAndGlyphs">100</text>
<line x1="181.90" y1="159.60" x2="183.90" y2="159.60" stroke="#111" stroke-width="0.9"/>
<text x="163.77" y="162.41" font-size="7.8" fill="#111" textLength="13.53" lengthAdjust="spacingAndGlyphs">120</text>
<line x1="183.90" y1="227.30" x2="265.40" y2="227.30" stroke="#222" stroke-width="1.1"/>
<line x1="191.60" y1="227.30" x2="191.60" y2="229.30" stroke="#222" stroke-width="0.9"/>
<line x1="205.00" y1="227.30" x2="205.00" y2="229.30" stroke="#222" stroke-width="0.9"/>
<line x1="218.40" y1="227.30" x2="218.40" y2="229.30" stroke="#222" stroke-width="0.9"/>
<line x1="231.60" y1="227.30" x2="231.60" y2="229.30" stroke="#222" stroke-width="0.9"/>
<line x1="245.00" y1="227.30" x2="245.00" y2="229.30" stroke="#222" stroke-width="0.9"/>
<line x1="258.40" y1="227.30" x2="258.40" y2="229.30" stroke="#222" stroke-width="0.9"/>
<line x1="265.40" y1="227.30" x2="265.40" y2="229.30" stroke="#222" stroke-width="0.9"/>
<polyline points="191.60,170.88 205.00,174.27 218.40,176.53 231.60,180.47 245.00,182.17 258.40,191.76" fill="none" stroke="#000" stroke-width="1.1" stroke-linejoin="round"/>
<line x1="205.00" y1="172.58" x2="205.00" y2="175.96" stroke="#222" stroke-width="0.9"/>
<line x1="203.40" y1="172.58" x2="206.60" y2="172.58" stroke="#222" stroke-width="0.9"/>
<line x1="203.40" y1="175.96" x2="206.60" y2="175.96" stroke="#222" stroke-width="0.9"/>
<line x1="218.40" y1="175.96" x2="218.40" y2="177.09" stroke="#222" stroke-width="0.9"/>
<line x1="216.80" y1="175.96" x2="220.00" y2="175.96" stroke="#222" stroke-width="0.9"/>
<line x1="216.80" y1="177.09" x2="220.00" y2="177.09" stroke="#222" stroke-width="0.9"/>
<line x1="231.60" y1="178.78" x2="231.60" y2="182.17" stroke="#222" stroke-width="0.9"/>
<line x1="230.00" y1="178.78" x2="233.20" y2="178.78" stroke="#222" stroke-width="0.9"/>
<line x1="230.00" y1="182.17" x2="233.20" y2="182.17" stroke="#222" stroke-width="0.9"/>
<line x1="245.00" y1="181.60" x2="245.00" y2="182.73" stroke="#222" stroke-width="0.9"/>
<line x1="243.40" y1="181.60" x2="246.60" y2="181.60" stroke="#222" stroke-width="0.9"/>
<line x1="243.40" y1="182.73" x2="246.60" y2="182.73" stroke="#222" stroke-width="0.9"/>
<line x1="258.40" y1="191.19" x2="258.40" y2="192.32" stroke="#222" stroke-width="0.9"/>
<line x1="256.80" y1="191.19" x2="260.00" y2="191.19" stroke="#222" stroke-width="0.9"/>
<line x1="256.80" y1="192.32" x2="260.00" y2="192.32" stroke="#222" stroke-width="0.9"/>
<circle cx="191.60" cy="170.88" r="2.4" fill="#000" stroke="none" stroke-width="0"/>
<rect x="202.89" y="172.16" width="4.22" height="4.22" rx="0.6" fill="#000"/>
<circle cx="218.40" cy="176.53" r="2.4" fill="#000" stroke="none" stroke-width="0"/>
<rect x="229.49" y="178.36" width="4.22" height="4.22" rx="0.6" fill="#000"/>
<circle cx="245.00" cy="182.17" r="2.4" fill="#000" stroke="none" stroke-width="0"/>
<circle cx="258.40" cy="191.76" r="2.4" fill="#000" stroke="none" stroke-width="0"/>
<polyline points="191.60,173.14 205.00,184.99 218.40,218.84 231.60,222.79 245.00,223.35 258.40,223.35" fill="none" stroke="#5555f4" stroke-width="1.3" stroke-linejoin="round"/>
<line x1="205.00" y1="179.35" x2="205.00" y2="190.63" stroke="#555" stroke-width="0.9"/>
<line x1="203.40" y1="179.35" x2="206.60" y2="179.35" stroke="#555" stroke-width="0.9"/>
<line x1="203.40" y1="190.63" x2="206.60" y2="190.63" stroke="#555" stroke-width="0.9"/>
<line x1="218.40" y1="216.02" x2="218.40" y2="221.66" stroke="#555" stroke-width="0.9"/>
<line x1="216.80" y1="216.02" x2="220.00" y2="216.02" stroke="#555" stroke-width="0.9"/>
<line x1="216.80" y1="221.66" x2="220.00" y2="221.66" stroke="#555" stroke-width="0.9"/>
<line x1="231.60" y1="222.22" x2="231.60" y2="223.35" stroke="#555" stroke-width="0.9"/>
<line x1="230.00" y1="222.22" x2="233.20" y2="222.22" stroke="#555" stroke-width="0.9"/>
<line x1="230.00" y1="223.35" x2="233.20" y2="223.35" stroke="#555" stroke-width="0.9"/>
<line x1="245.00" y1="222.79" x2="245.00" y2="223.92" stroke="#555" stroke-width="0.9"/>
<line x1="243.40" y1="222.79" x2="246.60" y2="222.79" stroke="#555" stroke-width="0.9"/>
<line x1="243.40" y1="223.92" x2="246.60" y2="223.92" stroke="#555" stroke-width="0.9"/>
<line x1="258.40" y1="222.79" x2="258.40" y2="223.92" stroke="#555" stroke-width="0.9"/>
<line x1="256.80" y1="222.79" x2="260.00" y2="222.79" stroke="#555" stroke-width="0.9"/>
<line x1="256.80" y1="223.92" x2="260.00" y2="223.92" stroke="#555" stroke-width="0.9"/>
<circle cx="191.60" cy="173.14" r="2.4" fill="#5555f4" stroke="none" stroke-width="0"/>
<circle cx="205.00" cy="184.99" r="2.4" fill="#5555f4" stroke="none" stroke-width="0"/>
<circle cx="218.40" cy="218.84" r="2.4" fill="#5555f4" stroke="none" stroke-width="0"/>
<circle cx="231.60" cy="222.79" r="2.4" fill="#5555f4" stroke="none" stroke-width="0"/>
<circle cx="245.00" cy="223.35" r="2.4" fill="#5555f4" stroke="none" stroke-width="0"/>
<circle cx="258.40" cy="223.35" r="2.4" fill="#5555f4" stroke="none" stroke-width="0"/>
<text x="205.65" y="149.20" font-size="9.5" font-weight="bold" fill="#000" textLength="40.78" lengthAdjust="spacingAndGlyphs">SNU-484</text>
<text transform="translate(194.41,236.76) scale(1.1,1) rotate(-90)" font-size="7.3" fill="#111" textLength="4.22" lengthAdjust="spacingAndGlyphs">0</text>
<text transform="translate(207.81,243.02) scale(1.1,1) rotate(-90)" font-size="7.3" fill="#111" textLength="10.55" lengthAdjust="spacingAndGlyphs">0.2</text>
<text transform="translate(221.21,243.18) scale(1.1,1) rotate(-90)" font-size="7.3" fill="#111" textLength="10.55" lengthAdjust="spacingAndGlyphs">0.4</text>
<text transform="translate(234.41,243.06) scale(1.1,1) rotate(-90)" font-size="7.3" fill="#111" textLength="10.55" lengthAdjust="spacingAndGlyphs">0.6</text>
<text transform="translate(247.81,243.10) scale(1.1,1) rotate(-90)" font-size="7.3" fill="#111" textLength="10.55" lengthAdjust="spacingAndGlyphs">0.8</text>
<text transform="translate(261.21,236.72) scale(1.1,1) rotate(-90)" font-size="7.3" fill="#111" textLength="4.22" lengthAdjust="spacingAndGlyphs">1</text>
<text x="194.12" y="261.60" font-size="8.4" fill="#111" textLength="63.61" lengthAdjust="spacingAndGlyphs">PACMA31 (μM)</text>
<line x1="293.10" y1="227.90" x2="293.10" y2="159.60" stroke="#222" stroke-width="1.1"/>
<line x1="291.10" y1="227.40" x2="293.10" y2="227.40" stroke="#111" stroke-width="0.9"/>
<text x="281.67" y="230.21" font-size="7.8" fill="#111" textLength="4.51" lengthAdjust="spacingAndGlyphs">0</text>
<line x1="291.10" y1="216.10" x2="293.10" y2="216.10" stroke="#111" stroke-width="0.9"/>
<text x="277.17" y="218.91" font-size="7.8" fill="#111" textLength="9.02" lengthAdjust="spacingAndGlyphs">20</text>
<line x1="291.10" y1="204.80" x2="293.10" y2="204.80" stroke="#111" stroke-width="0.9"/>
<text x="277.17" y="207.61" font-size="7.8" fill="#111" textLength="9.02" lengthAdjust="spacingAndGlyphs">40</text>
<line x1="291.10" y1="193.50" x2="293.10" y2="193.50" stroke="#111" stroke-width="0.9"/>
<text x="277.17" y="196.31" font-size="7.8" fill="#111" textLength="9.02" lengthAdjust="spacingAndGlyphs">60</text>
<line x1="291.10" y1="182.20" x2="293.10" y2="182.20" stroke="#111" stroke-width="0.9"/>
<text x="277.17" y="185.01" font-size="7.8" fill="#111" textLength="9.02" lengthAdjust="spacingAndGlyphs">80</text>
<line x1="291.10" y1="170.90" x2="293.10" y2="170.90" stroke="#111" stroke-width="0.9"/>
<text x="272.67" y="173.71" font-size="7.8" fill="#111" textLength="13.53" lengthAdjust="spacingAndGlyphs">100</text>
<line x1="291.10" y1="159.60" x2="293.10" y2="159.60" stroke="#111" stroke-width="0.9"/>
<text x="272.67" y="162.41" font-size="7.8" fill="#111" textLength="13.53" lengthAdjust="spacingAndGlyphs">120</text>
<line x1="293.10" y1="227.40" x2="374.10" y2="227.40" stroke="#222" stroke-width="1.1"/>
<line x1="299.90" y1="227.40" x2="299.90" y2="229.40" stroke="#222" stroke-width="0.9"/>
<line x1="313.40" y1="227.40" x2="313.40" y2="229.40" stroke="#222" stroke-width="0.9"/>
<line x1="326.80" y1="227.40" x2="326.80" y2="229.40" stroke="#222" stroke-width="0.9"/>
<line x1="340.30" y1="227.40" x2="340.30" y2="229.40" stroke="#222" stroke-width="0.9"/>
<line x1="353.70" y1="227.40" x2="353.70" y2="229.40" stroke="#222" stroke-width="0.9"/>
<line x1="367.30" y1="227.40" x2="367.30" y2="229.40" stroke="#222" stroke-width="0.9"/>
<line x1="374.10" y1="227.40" x2="374.10" y2="229.40" stroke="#222" stroke-width="0.9"/>
<polyline points="299.90,170.90 313.40,171.47 326.80,172.03 340.30,172.03 353.70,172.03 367.30,173.16" fill="none" stroke="#000" stroke-width="1.1" stroke-linejoin="round"/>
<line x1="353.70" y1="171.47" x2="353.70" y2="172.59" stroke="#222" stroke-width="0.9"/>
<line x1="352.10" y1="171.47" x2="355.30" y2="171.47" stroke="#222" stroke-width="0.9"/>
<line x1="352.10" y1="172.59" x2="355.30" y2="172.59" stroke="#222" stroke-width="0.9"/>
<line x1="367.30" y1="172.03" x2="367.30" y2="174.29" stroke="#222" stroke-width="0.9"/>
<line x1="365.70" y1="172.03" x2="368.90" y2="172.03" stroke="#222" stroke-width="0.9"/>
<line x1="365.70" y1="174.29" x2="368.90" y2="174.29" stroke="#222" stroke-width="0.9"/>
<circle cx="299.90" cy="170.90" r="2.4" fill="#000" stroke="none" stroke-width="0"/>
<circle cx="313.40" cy="171.47" r="2.4" fill="#000" stroke="none" stroke-width="0"/>
<circle cx="326.80" cy="172.03" r="2.4" fill="#000" stroke="none" stroke-width="0"/>
<circle cx="340.30" cy="172.03" r="2.4" fill="#000" stroke="none" stroke-width="0"/>
<circle cx="353.70" cy="172.03" r="2.4" fill="#000" stroke="none" stroke-width="0"/>
<rect x="365.19" y="171.05" width="4.22" height="4.22" rx="0.6" fill="#000"/>
<polyline points="299.90,176.55 313.40,191.24 326.80,206.50 340.30,213.84 353.70,220.06 367.30,221.19" fill="none" stroke="#5555f4" stroke-width="1.3" stroke-linejoin="round"/>
<line x1="313.40" y1="190.11" x2="313.40" y2="192.37" stroke="#555" stroke-width="0.9"/>
<line x1="311.80" y1="190.11" x2="315.00" y2="190.11" stroke="#555" stroke-width="0.9"/>
<line x1="311.80" y1="192.37" x2="315.00" y2="192.37" stroke="#555" stroke-width="0.9"/>
<line x1="326.80" y1="205.93" x2="326.80" y2="207.06" stroke="#555" stroke-width="0.9"/>
<line x1="325.20" y1="205.93" x2="328.40" y2="205.93" stroke="#555" stroke-width="0.9"/>
<line x1="325.20" y1="207.06" x2="328.40" y2="207.06" stroke="#555" stroke-width="0.9"/>
<line x1="340.30" y1="212.71" x2="340.30" y2="214.97" stroke="#555" stroke-width="0.9"/>
<line x1="338.70" y1="212.71" x2="341.90" y2="212.71" stroke="#555" stroke-width="0.9"/>
<line x1="338.70" y1="214.97" x2="341.90" y2="214.97" stroke="#555" stroke-width="0.9"/>
<line x1="353.70" y1="218.93" x2="353.70" y2="221.19" stroke="#555" stroke-width="0.9"/>
<line x1="352.10" y1="218.93" x2="355.30" y2="218.93" stroke="#555" stroke-width="0.9"/>
<line x1="352.10" y1="221.19" x2="355.30" y2="221.19" stroke="#555" stroke-width="0.9"/>
<line x1="367.30" y1="220.06" x2="367.30" y2="222.31" stroke="#555" stroke-width="0.9"/>
<line x1="365.70" y1="220.06" x2="368.90" y2="220.06" stroke="#555" stroke-width="0.9"/>
<line x1="365.70" y1="222.31" x2="368.90" y2="222.31" stroke="#555" stroke-width="0.9"/>
<circle cx="299.90" cy="176.55" r="2.4" fill="#5555f4" stroke="none" stroke-width="0"/>
<rect x="311.29" y="189.13" width="4.22" height="4.22" rx="0.6" fill="#5555f4"/>
<circle cx="326.80" cy="206.50" r="2.4" fill="#5555f4" stroke="none" stroke-width="0"/>
<rect x="338.19" y="211.73" width="4.22" height="4.22" rx="0.6" fill="#5555f4"/>
<rect x="351.59" y="217.94" width="4.22" height="4.22" rx="0.6" fill="#5555f4"/>
<rect x="365.19" y="219.07" width="4.22" height="4.22" rx="0.6" fill="#5555f4"/>
<text x="316.45" y="149.20" font-size="9.5" font-weight="bold" fill="#000" textLength="35.36" lengthAdjust="spacingAndGlyphs">YCC-16</text>
<text transform="translate(302.71,236.76) scale(1.1,1) rotate(-90)" font-size="7.3" fill="#111" textLength="4.22" lengthAdjust="spacingAndGlyphs">0</text>
<text transform="translate(316.21,247.31) scale(1.1,1) rotate(-90)" font-size="7.3" fill="#111" textLength="14.78" lengthAdjust="spacingAndGlyphs">0.05</text>
<text transform="translate(329.61,243.06) scale(1.1,1) rotate(-90)" font-size="7.3" fill="#111" textLength="10.55" lengthAdjust="spacingAndGlyphs">0.1</text>
<text transform="translate(343.11,251.53) scale(1.1,1) rotate(-90)" font-size="7.3" fill="#111" textLength="19.00" lengthAdjust="spacingAndGlyphs">0.150</text>
<text transform="translate(356.51,247.31) scale(1.1,1) rotate(-90)" font-size="7.3" fill="#111" textLength="14.78" lengthAdjust="spacingAndGlyphs">0.20</text>
<text transform="translate(370.11,251.53) scale(1.1,1) rotate(-90)" font-size="7.3" fill="#111" textLength="19.00" lengthAdjust="spacingAndGlyphs">0.250</text>
<text x="302.11" y="261.10" font-size="8.4" fill="#111" textLength="64.32" lengthAdjust="spacingAndGlyphs">PACMA31 (μM)</text>
<line x1="398.40" y1="229.30" x2="398.40" y2="160.00" stroke="#222" stroke-width="1.1"/>
<line x1="396.40" y1="228.80" x2="398.40" y2="228.80" stroke="#111" stroke-width="0.9"/>
<text x="387.07" y="231.61" font-size="7.8" fill="#111" textLength="4.51" lengthAdjust="spacingAndGlyphs">0</text>
<line x1="396.40" y1="217.33" x2="398.40" y2="217.33" stroke="#111" stroke-width="0.9"/>
<text x="382.57" y="220.14" font-size="7.8" fill="#111" textLength="9.02" lengthAdjust="spacingAndGlyphs">20</text>
<line x1="396.40" y1="205.87" x2="398.40" y2="205.87" stroke="#111" stroke-width="0.9"/>
<text x="382.57" y="208.67" font-size="7.8" fill="#111" textLength="9.02" lengthAdjust="spacingAndGlyphs">40</text>
<line x1="396.40" y1="194.40" x2="398.40" y2="194.40" stroke="#111" stroke-width="0.9"/>
<text x="382.57" y="197.21" font-size="7.8" fill="#111" textLength="9.02" lengthAdjust="spacingAndGlyphs">60</text>
<line x1="396.40" y1="182.93" x2="398.40" y2="182.93" stroke="#111" stroke-width="0.9"/>
<text x="382.57" y="185.74" font-size="7.8" fill="#111" textLength="9.02" lengthAdjust="spacingAndGlyphs">80</text>
<line x1="396.40" y1="171.47" x2="398.40" y2="171.47" stroke="#111" stroke-width="0.9"/>
<text x="378.07" y="174.27" font-size="7.8" fill="#111" textLength="13.53" lengthAdjust="spacingAndGlyphs">100</text>
<line x1="396.40" y1="160.00" x2="398.40" y2="160.00" stroke="#111" stroke-width="0.9"/>
<text x="378.07" y="162.81" font-size="7.8" fill="#111" textLength="13.53" lengthAdjust="spacingAndGlyphs">120</text>
<line x1="398.40" y1="228.80" x2="477.80" y2="228.80" stroke="#222" stroke-width="1.1"/>
<line x1="405.50" y1="228.80" x2="405.50" y2="230.80" stroke="#222" stroke-width="0.9"/>
<line x1="418.70" y1="228.80" x2="418.70" y2="230.80" stroke="#222" stroke-width="0.9"/>
<line x1="431.80" y1="228.80" x2="431.80" y2="230.80" stroke="#222" stroke-width="0.9"/>
<line x1="444.90" y1="228.80" x2="444.90" y2="230.80" stroke="#222" stroke-width="0.9"/>
<line x1="458.30" y1="228.80" x2="458.30" y2="230.80" stroke="#222" stroke-width="0.9"/>
<line x1="471.20" y1="228.80" x2="471.20" y2="230.80" stroke="#222" stroke-width="0.9"/>
<line x1="477.80" y1="228.80" x2="477.80" y2="230.80" stroke="#222" stroke-width="0.9"/>
<polyline points="405.50,171.47 418.70,176.63 431.80,180.64 444.90,180.64 458.30,182.93 471.20,186.95" fill="none" stroke="#000" stroke-width="1.1" stroke-linejoin="round"/>
<line x1="418.70" y1="176.05" x2="418.70" y2="177.20" stroke="#222" stroke-width="0.9"/>
<line x1="417.10" y1="176.05" x2="420.30" y2="176.05" stroke="#222" stroke-width="0.9"/>
<line x1="417.10" y1="177.20" x2="420.30" y2="177.20" stroke="#222" stroke-width="0.9"/>
<line x1="431.80" y1="180.07" x2="431.80" y2="181.21" stroke="#222" stroke-width="0.9"/>
<line x1="430.20" y1="180.07" x2="433.40" y2="180.07" stroke="#222" stroke-width="0.9"/>
<line x1="430.20" y1="181.21" x2="433.40" y2="181.21" stroke="#222" stroke-width="0.9"/>
<line x1="444.90" y1="178.35" x2="444.90" y2="182.93" stroke="#222" stroke-width="0.9"/>
<line x1="443.30" y1="178.35" x2="446.50" y2="178.35" stroke="#222" stroke-width="0.9"/>
<line x1="443.30" y1="182.93" x2="446.50" y2="182.93" stroke="#222" stroke-width="0.9"/>
<line x1="458.30" y1="182.36" x2="458.30" y2="183.51" stroke="#222" stroke-width="0.9"/>
<line x1="456.70" y1="182.36" x2="459.90" y2="182.36" stroke="#222" stroke-width="0.9"/>
<line x1="456.70" y1="183.51" x2="459.90" y2="183.51" stroke="#222" stroke-width="0.9"/>
<line x1="471.20" y1="184.65" x2="471.20" y2="189.24" stroke="#222" stroke-width="0.9"/>
<line x1="469.60" y1="184.65" x2="472.80" y2="184.65" stroke="#222" stroke-width="0.9"/>
<line x1="469.60" y1="189.24" x2="472.80" y2="189.24" stroke="#222" stroke-width="0.9"/>
<circle cx="405.50" cy="171.47" r="2.4" fill="#000" stroke="none" stroke-width="0"/>
<circle cx="418.70" cy="176.63" r="2.4" fill="#000" stroke="none" stroke-width="0"/>
<circle cx="431.80" cy="180.64" r="2.4" fill="#000" stroke="none" stroke-width="0"/>
<circle cx="444.90" cy="180.64" r="2.4" fill="#000" stroke="none" stroke-width="0"/>
<circle cx="458.30" cy="182.93" r="2.4" fill="#000" stroke="none" stroke-width="0"/>
<circle cx="471.20" cy="186.95" r="2.4" fill="#000" stroke="none" stroke-width="0"/>
<polyline points="405.50,174.33 418.70,199.56 431.80,207.59 444.90,211.03 458.30,217.33 471.20,220.20" fill="none" stroke="#5555f4" stroke-width="1.3" stroke-linejoin="round"/>
<line x1="418.70" y1="198.41" x2="418.70" y2="200.71" stroke="#555" stroke-width="0.9"/>
<line x1="417.10" y1="198.41" x2="420.30" y2="198.41" stroke="#555" stroke-width="0.9"/>
<line x1="417.10" y1="200.71" x2="420.30" y2="200.71" stroke="#555" stroke-width="0.9"/>
<line x1="431.80" y1="205.29" x2="431.80" y2="209.88" stroke="#555" stroke-width="0.9"/>
<line x1="430.20" y1="205.29" x2="433.40" y2="205.29" stroke="#555" stroke-width="0.9"/>
<line x1="430.20" y1="209.88" x2="433.40" y2="209.88" stroke="#555" stroke-width="0.9"/>
<line x1="444.90" y1="210.45" x2="444.90" y2="211.60" stroke="#555" stroke-width="0.9"/>
<line x1="443.30" y1="210.45" x2="446.50" y2="210.45" stroke="#555" stroke-width="0.9"/>
<line x1="443.30" y1="211.60" x2="446.50" y2="211.60" stroke="#555" stroke-width="0.9"/>
<line x1="458.30" y1="216.76" x2="458.30" y2="217.91" stroke="#555" stroke-width="0.9"/>
<line x1="456.70" y1="216.76" x2="459.90" y2="216.76" stroke="#555" stroke-width="0.9"/>
<line x1="456.70" y1="217.91" x2="459.90" y2="217.91" stroke="#555" stroke-width="0.9"/>
<line x1="471.20" y1="217.91" x2="471.20" y2="222.49" stroke="#555" stroke-width="0.9"/>
<line x1="469.60" y1="217.91" x2="472.80" y2="217.91" stroke="#555" stroke-width="0.9"/>
<line x1="469.60" y1="222.49" x2="472.80" y2="222.49" stroke="#555" stroke-width="0.9"/>
<circle cx="405.50" cy="174.33" r="2.4" fill="#5555f4" stroke="none" stroke-width="0"/>
<rect x="416.59" y="197.45" width="4.22" height="4.22" rx="0.6" fill="#5555f4"/>
<circle cx="431.80" cy="207.59" r="2.4" fill="#5555f4" stroke="none" stroke-width="0"/>
<circle cx="444.90" cy="211.03" r="2.4" fill="#5555f4" stroke="none" stroke-width="0"/>
<circle cx="458.30" cy="217.33" r="2.4" fill="#5555f4" stroke="none" stroke-width="0"/>
<circle cx="471.20" cy="220.20" r="2.4" fill="#5555f4" stroke="none" stroke-width="0"/>
<text x="424.71" y="149.40" font-size="9.5" font-weight="bold" fill="#000" textLength="28.90" lengthAdjust="spacingAndGlyphs">H1299</text>
<text transform="translate(408.31,238.46) scale(1.1,1) rotate(-90)" font-size="7.3" fill="#111" textLength="4.22" lengthAdjust="spacingAndGlyphs">0</text>
<text transform="translate(421.51,244.76) scale(1.1,1) rotate(-90)" font-size="7.3" fill="#111" textLength="10.55" lengthAdjust="spacingAndGlyphs">0.1</text>
<text transform="translate(434.61,244.72) scale(1.1,1) rotate(-90)" font-size="7.3" fill="#111" textLength="10.55" lengthAdjust="spacingAndGlyphs">0.2</text>
<text transform="translate(447.71,244.76) scale(1.1,1) rotate(-90)" font-size="7.3" fill="#111" textLength="10.55" lengthAdjust="spacingAndGlyphs">0.3</text>
<text transform="translate(461.11,244.88) scale(1.1,1) rotate(-90)" font-size="7.3" fill="#111" textLength="10.55" lengthAdjust="spacingAndGlyphs">0.4</text>
<text transform="translate(474.01,244.80) scale(1.1,1) rotate(-90)" font-size="7.3" fill="#111" textLength="10.55" lengthAdjust="spacingAndGlyphs">0.5</text>
<text x="409.31" y="262.90" font-size="8.4" fill="#111" textLength="64.12" lengthAdjust="spacingAndGlyphs">PACMA31 (μM)</text>
<line x1="480.40" y1="183.30" x2="501.00" y2="183.30" stroke="#000" stroke-width="1.0"/>
<circle cx="490.40" cy="183.30" r="1.6" fill="#000" stroke="none" stroke-width="0"/>
<line x1="480.40" y1="196.40" x2="501.00" y2="196.40" stroke="#5555f4" stroke-width="1.0"/>
<circle cx="490.40" cy="196.40" r="1.6" fill="#5555f4" stroke="none" stroke-width="0"/>
<text x="501.87" y="186.40" font-size="6.3" fill="#111" textLength="27.65" lengthAdjust="spacingAndGlyphs">PACMA31</text>
<text x="501.86" y="199.20" font-size="6.3" fill="#111" textLength="33.71" lengthAdjust="spacingAndGlyphs">PACMA31 +</text>
<text x="501.85" y="210.20" font-size="6.3" fill="#111" textLength="30.36" lengthAdjust="spacingAndGlyphs">Darapladib</text>
<rect x="82.30" y="310.97" width="7.80" height="53.83" fill="#fff" stroke="#111" stroke-width="1.05"/>
<circle cx="83.20" cy="310.97" r="0.75" fill="#222" stroke="none" stroke-width="0"/>
<circle cx="84.70" cy="310.97" r="0.75" fill="#222" stroke="none" stroke-width="0"/>
<circle cx="86.20" cy="310.97" r="0.75" fill="#222" stroke="none" stroke-width="0"/>
<circle cx="87.70" cy="310.97" r="0.75" fill="#222" stroke="none" stroke-width="0"/>
<circle cx="89.20" cy="310.97" r="0.75" fill="#222" stroke="none" stroke-width="0"/>
<rect x="95.90" y="327.65" width="7.80" height="37.15" fill="#fff" stroke="#111" stroke-width="1.05"/>
<line x1="99.80" y1="327.65" x2="99.80" y2="326.58" stroke="#111" stroke-width="0.8"/>
<line x1="98.30" y1="326.58" x2="101.30" y2="326.58" stroke="#111" stroke-width="0.8"/>
<circle cx="97.20" cy="328.49" r="0.75" fill="#222" stroke="none" stroke-width="0"/>
<circle cx="99.80" cy="327.52" r="0.75" fill="#222" stroke="none" stroke-width="0"/>
<circle cx="102.40" cy="328.92" r="0.75" fill="#222" stroke="none" stroke-width="0"/>
<rect x="109.50" y="317.43" width="7.80" height="47.37" fill="#fff" stroke="#111" stroke-width="1.05"/>
<line x1="113.40" y1="317.43" x2="113.40" y2="316.35" stroke="#111" stroke-width="0.8"/>
<line x1="111.90" y1="316.35" x2="114.90" y2="316.35" stroke="#111" stroke-width="0.8"/>
<circle cx="110.80" cy="318.26" r="0.75" fill="#222" stroke="none" stroke-width="0"/>
<circle cx="113.40" cy="317.29" r="0.75" fill="#222" stroke="none" stroke-width="0"/>
<circle cx="116.00" cy="318.69" r="0.75" fill="#222" stroke="none" stroke-width="0"/>
<rect x="123.30" y="312.58" width="7.80" height="52.22" fill="#fff" stroke="#111" stroke-width="1.05"/>
<line x1="127.20" y1="312.58" x2="127.20" y2="310.97" stroke="#111" stroke-width="0.8"/>
<line x1="125.70" y1="310.97" x2="128.70" y2="310.97" stroke="#111" stroke-width="0.8"/>
<circle cx="124.60" cy="313.63" r="0.75" fill="#222" stroke="none" stroke-width="0"/>
<circle cx="127.20" cy="312.17" r="0.75" fill="#222" stroke="none" stroke-width="0"/>
<circle cx="129.80" cy="314.27" r="0.75" fill="#222" stroke="none" stroke-width="0"/>
<rect x="136.60" y="351.88" width="7.80" height="12.92" fill="#fff" stroke="#111" stroke-width="1.05"/>
<line x1="140.50" y1="351.88" x2="140.50" y2="351.07" stroke="#111" stroke-width="0.8"/>
<line x1="139.00" y1="351.07" x2="142.00" y2="351.07" stroke="#111" stroke-width="0.8"/>
<circle cx="137.90" cy="352.60" r="0.75" fill="#222" stroke="none" stroke-width="0"/>
<circle cx="140.50" cy="351.88" r="0.75" fill="#222" stroke="none" stroke-width="0"/>
<circle cx="143.10" cy="352.93" r="0.75" fill="#222" stroke="none" stroke-width="0"/>
<rect x="150.60" y="314.20" width="7.80" height="50.60" fill="#fff" stroke="#111" stroke-width="1.05"/>
<line x1="154.50" y1="314.20" x2="154.50" y2="310.97" stroke="#111" stroke-width="0.8"/>
<line x1="153.00" y1="310.97" x2="156.00" y2="310.97" stroke="#111" stroke-width="0.8"/>
<circle cx="151.90" cy="315.89" r="0.75" fill="#222" stroke="none" stroke-width="0"/>
<circle cx="154.50" cy="312.98" r="0.75" fill="#222" stroke="none" stroke-width="0"/>
<circle cx="157.10" cy="317.18" r="0.75" fill="#222" stroke="none" stroke-width="0"/>
<line x1="76.60" y1="365.30" x2="76.60" y2="300.20" stroke="#111" stroke-width="1.0"/>
<line x1="73.60" y1="364.80" x2="76.60" y2="364.80" stroke="#222" stroke-width="0.9"/>
<text x="68.82" y="366.90" font-size="6.3" fill="#111" textLength="4.13" lengthAdjust="spacingAndGlyphs">0</text>
<line x1="73.60" y1="354.03" x2="76.60" y2="354.03" stroke="#222" stroke-width="0.9"/>
<text x="64.70" y="356.13" font-size="6.3" fill="#111" textLength="8.27" lengthAdjust="spacingAndGlyphs">20</text>
<line x1="73.60" y1="343.27" x2="76.60" y2="343.27" stroke="#222" stroke-width="0.9"/>
<text x="64.70" y="345.37" font-size="6.3" fill="#111" textLength="8.27" lengthAdjust="spacingAndGlyphs">40</text>
<line x1="73.60" y1="332.50" x2="76.60" y2="332.50" stroke="#222" stroke-width="0.9"/>
<text x="64.70" y="334.60" font-size="6.3" fill="#111" textLength="8.27" lengthAdjust="spacingAndGlyphs">60</text>
<line x1="73.60" y1="321.73" x2="76.60" y2="321.73" stroke="#222" stroke-width="0.9"/>
<text x="64.70" y="323.83" font-size="6.3" fill="#111" textLength="8.27" lengthAdjust="spacingAndGlyphs">80</text>
<line x1="73.60" y1="310.97" x2="76.60" y2="310.97" stroke="#222" stroke-width="0.9"/>
<text x="60.57" y="313.07" font-size="6.3" fill="#111" textLength="12.40" lengthAdjust="spacingAndGlyphs">100</text>
<line x1="73.60" y1="300.20" x2="76.60" y2="300.20" stroke="#222" stroke-width="0.9"/>
<text x="60.57" y="302.30" font-size="6.3" fill="#111" textLength="12.40" lengthAdjust="spacingAndGlyphs">120</text>
<line x1="76.60" y1="364.80" x2="163.70" y2="364.80" stroke="#111" stroke-width="1.0"/>
<line x1="86.20" y1="364.80" x2="86.20" y2="366.40" stroke="#555" stroke-width="0.8"/>
<line x1="99.80" y1="364.80" x2="99.80" y2="366.40" stroke="#555" stroke-width="0.8"/>
<line x1="113.40" y1="364.80" x2="113.40" y2="366.40" stroke="#555" stroke-width="0.8"/>
<line x1="127.20" y1="364.80" x2="127.20" y2="366.40" stroke="#555" stroke-width="0.8"/>
<line x1="140.50" y1="364.80" x2="140.50" y2="366.40" stroke="#555" stroke-width="0.8"/>
<line x1="154.50" y1="364.80" x2="154.50" y2="366.40" stroke="#555" stroke-width="0.8"/>
<text x="102.71" y="281.60" font-size="9.5" font-weight="bold" fill="#000" textLength="35.07" lengthAdjust="spacingAndGlyphs">Hs746T</text>
<polyline points="98.60,304.30 98.60,295.6 136.60,295.6 136.60,342.00" fill="none" stroke="#8a8a8a" stroke-width="1.0"/>
<polyline points="139.20,342.00 139.20,295.6 151.60,295.6 151.60,303.90" fill="none" stroke="#8a8a8a" stroke-width="1.0"/>
<text x="105.05" y="291.90" font-size="5.2" font-weight="bold" font-style="italic" fill="#111" textLength="3.34" lengthAdjust="spacingAndGlyphs">p</text>
<text x="109.88" y="291.90" font-size="5.2" fill="#111" textLength="21.11" lengthAdjust="spacingAndGlyphs">&lt; 0.0001</text>
<text x="137.85" y="291.90" font-size="5.2" font-weight="bold" font-style="italic" fill="#111" textLength="3.34" lengthAdjust="spacingAndGlyphs">p</text>
<text x="142.68" y="291.90" font-size="5.2" fill="#111" textLength="21.42" lengthAdjust="spacingAndGlyphs">&lt; 0.0001</text>
<line x1="84.90" y1="375.80" x2="87.50" y2="375.80" stroke="#333" stroke-width="0.9"/>
<line x1="97.50" y1="375.80" x2="102.10" y2="375.80" stroke="#111" stroke-width="1.0"/>
<line x1="99.80" y1="373.50" x2="99.80" y2="378.10" stroke="#111" stroke-width="1.0"/>
<line x1="111.10" y1="375.80" x2="115.70" y2="375.80" stroke="#111" stroke-width="1.0"/>
<line x1="113.40" y1="373.50" x2="113.40" y2="378.10" stroke="#111" stroke-width="1.0"/>
<line x1="125.90" y1="375.80" x2="128.50" y2="375.80" stroke="#333" stroke-width="0.9"/>
<line x1="138.20" y1="375.80" x2="142.80" y2="375.80" stroke="#111" stroke-width="1.0"/>
<line x1="140.50" y1="373.50" x2="140.50" y2="378.10" stroke="#111" stroke-width="1.0"/>
<line x1="152.20" y1="375.80" x2="156.80" y2="375.80" stroke="#111" stroke-width="1.0"/>
<line x1="154.50" y1="373.50" x2="154.50" y2="378.10" stroke="#111" stroke-width="1.0"/>
<line x1="84.90" y1="385.10" x2="87.50" y2="385.10" stroke="#333" stroke-width="0.9"/>
<line x1="98.50" y1="385.10" x2="101.10" y2="385.10" stroke="#333" stroke-width="0.9"/>
<line x1="112.10" y1="385.10" x2="114.70" y2="385.10" stroke="#333" stroke-width="0.9"/>
<line x1="124.90" y1="385.10" x2="129.50" y2="385.10" stroke="#111" stroke-width="1.0"/>
<line x1="127.20" y1="382.80" x2="127.20" y2="387.40" stroke="#111" stroke-width="1.0"/>
<line x1="138.20" y1="385.10" x2="142.80" y2="385.10" stroke="#111" stroke-width="1.0"/>
<line x1="140.50" y1="382.80" x2="140.50" y2="387.40" stroke="#111" stroke-width="1.0"/>
<line x1="152.20" y1="385.10" x2="156.80" y2="385.10" stroke="#111" stroke-width="1.0"/>
<line x1="154.50" y1="382.80" x2="154.50" y2="387.40" stroke="#111" stroke-width="1.0"/>
<line x1="84.90" y1="394.50" x2="87.50" y2="394.50" stroke="#333" stroke-width="0.9"/>
<line x1="98.50" y1="394.50" x2="101.10" y2="394.50" stroke="#333" stroke-width="0.9"/>
<line x1="111.10" y1="394.50" x2="115.70" y2="394.50" stroke="#111" stroke-width="1.0"/>
<line x1="113.40" y1="392.20" x2="113.40" y2="396.80" stroke="#111" stroke-width="1.0"/>
<line x1="125.90" y1="394.50" x2="128.50" y2="394.50" stroke="#333" stroke-width="0.9"/>
<line x1="139.20" y1="394.50" x2="141.80" y2="394.50" stroke="#333" stroke-width="0.9"/>
<line x1="152.20" y1="394.50" x2="156.80" y2="394.50" stroke="#111" stroke-width="1.0"/>
<line x1="154.50" y1="392.20" x2="154.50" y2="396.80" stroke="#111" stroke-width="1.0"/>
<rect x="186.80" y="311.50" width="7.80" height="53.30" fill="#fff" stroke="#111" stroke-width="1.05"/>
<circle cx="187.70" cy="311.50" r="0.75" fill="#222" stroke="none" stroke-width="0"/>
<circle cx="189.20" cy="311.50" r="0.75" fill="#222" stroke="none" stroke-width="0"/>
<circle cx="190.70" cy="311.50" r="0.75" fill="#222" stroke="none" stroke-width="0"/>
<circle cx="192.20" cy="311.50" r="0.75" fill="#222" stroke="none" stroke-width="0"/>
<circle cx="193.70" cy="311.50" r="0.75" fill="#222" stroke="none" stroke-width="0"/>
<rect x="200.60" y="325.50" width="7.80" height="39.30" fill="#fff" stroke="#111" stroke-width="1.05"/>
<circle cx="201.50" cy="325.50" r="0.75" fill="#222" stroke="none" stroke-width="0"/>
<circle cx="203.00" cy="325.50" r="0.75" fill="#222" stroke="none" stroke-width="0"/>
<circle cx="204.50" cy="325.50" r="0.75" fill="#222" stroke="none" stroke-width="0"/>
<circle cx="206.00" cy="325.50" r="0.75" fill="#222" stroke="none" stroke-width="0"/>
<circle cx="207.50" cy="325.50" r="0.75" fill="#222" stroke="none" stroke-width="0"/>
<rect x="214.30" y="315.81" width="7.80" height="48.99" fill="#fff" stroke="#111" stroke-width="1.05"/>
<line x1="218.20" y1="315.81" x2="218.20" y2="315.00" stroke="#111" stroke-width="0.8"/>
<line x1="216.70" y1="315.00" x2="219.70" y2="315.00" stroke="#111" stroke-width="0.8"/>
<circle cx="215.60" cy="316.53" r="0.75" fill="#222" stroke="none" stroke-width="0"/>
<circle cx="218.20" cy="315.81" r="0.75" fill="#222" stroke="none" stroke-width="0"/>
<circle cx="220.80" cy="316.86" r="0.75" fill="#222" stroke="none" stroke-width="0"/>
<rect x="228.10" y="315.27" width="7.80" height="49.53" fill="#fff" stroke="#111" stroke-width="1.05"/>
<line x1="232.00" y1="315.27" x2="232.00" y2="314.74" stroke="#111" stroke-width="0.8"/>
<line x1="230.50" y1="314.74" x2="233.50" y2="314.74" stroke="#111" stroke-width="0.8"/>
<circle cx="229.40" cy="315.89" r="0.75" fill="#222" stroke="none" stroke-width="0"/>
<circle cx="232.00" cy="315.40" r="0.75" fill="#222" stroke="none" stroke-width="0"/>
<circle cx="234.60" cy="316.10" r="0.75" fill="#222" stroke="none" stroke-width="0"/>
<rect x="241.60" y="361.57" width="7.80" height="3.23" fill="#fff" stroke="#111" stroke-width="1.05"/>
<line x1="245.50" y1="361.57" x2="245.50" y2="360.76" stroke="#111" stroke-width="0.8"/>
<line x1="244.00" y1="360.76" x2="247.00" y2="360.76" stroke="#111" stroke-width="0.8"/>
<circle cx="242.90" cy="362.29" r="0.75" fill="#222" stroke="none" stroke-width="0"/>
<circle cx="245.50" cy="361.57" r="0.75" fill="#222" stroke="none" stroke-width="0"/>
<circle cx="248.10" cy="362.62" r="0.75" fill="#222" stroke="none" stroke-width="0"/>
<rect x="255.30" y="304.51" width="7.80" height="60.29" fill="#fff" stroke="#111" stroke-width="1.05"/>
<line x1="259.20" y1="304.51" x2="259.20" y2="302.89" stroke="#111" stroke-width="0.8"/>
<line x1="257.70" y1="302.89" x2="260.70" y2="302.89" stroke="#111" stroke-width="0.8"/>
<circle cx="256.60" cy="305.55" r="0.75" fill="#222" stroke="none" stroke-width="0"/>
<circle cx="259.20" cy="304.10" r="0.75" fill="#222" stroke="none" stroke-width="0"/>
<circle cx="261.80" cy="306.20" r="0.75" fill="#222" stroke="none" stroke-width="0"/>
<line x1="181.90" y1="365.30" x2="181.90" y2="300.20" stroke="#111" stroke-width="1.0"/>
<line x1="178.90" y1="364.80" x2="181.90" y2="364.80" stroke="#222" stroke-width="0.9"/>
<text x="174.12" y="366.90" font-size="6.3" fill="#111" textLength="4.13" lengthAdjust="spacingAndGlyphs">0</text>
<line x1="178.90" y1="354.03" x2="181.90" y2="354.03" stroke="#222" stroke-width="0.9"/>
<text x="170.00" y="356.13" font-size="6.3" fill="#111" textLength="8.27" lengthAdjust="spacingAndGlyphs">20</text>
<line x1="178.90" y1="343.27" x2="181.90" y2="343.27" stroke="#222" stroke-width="0.9"/>
<text x="170.00" y="345.37" font-size="6.3" fill="#111" textLength="8.27" lengthAdjust="spacingAndGlyphs">40</text>
<line x1="178.90" y1="332.50" x2="181.90" y2="332.50" stroke="#222" stroke-width="0.9"/>
<text x="170.00" y="334.60" font-size="6.3" fill="#111" textLength="8.27" lengthAdjust="spacingAndGlyphs">60</text>
<line x1="178.90" y1="321.73" x2="181.90" y2="321.73" stroke="#222" stroke-width="0.9"/>
<text x="170.00" y="323.83" font-size="6.3" fill="#111" textLength="8.27" lengthAdjust="spacingAndGlyphs">80</text>
<line x1="178.90" y1="310.97" x2="181.90" y2="310.97" stroke="#222" stroke-width="0.9"/>
<text x="165.87" y="313.07" font-size="6.3" fill="#111" textLength="12.40" lengthAdjust="spacingAndGlyphs">100</text>
<line x1="178.90" y1="300.20" x2="181.90" y2="300.20" stroke="#222" stroke-width="0.9"/>
<text x="165.87" y="302.30" font-size="6.3" fill="#111" textLength="12.40" lengthAdjust="spacingAndGlyphs">120</text>
<line x1="181.90" y1="364.80" x2="268.80" y2="364.80" stroke="#111" stroke-width="1.0"/>
<line x1="190.70" y1="364.80" x2="190.70" y2="366.40" stroke="#555" stroke-width="0.8"/>
<line x1="204.50" y1="364.80" x2="204.50" y2="366.40" stroke="#555" stroke-width="0.8"/>
<line x1="218.20" y1="364.80" x2="218.20" y2="366.40" stroke="#555" stroke-width="0.8"/>
<line x1="232.00" y1="364.80" x2="232.00" y2="366.40" stroke="#555" stroke-width="0.8"/>
<line x1="245.50" y1="364.80" x2="245.50" y2="366.40" stroke="#555" stroke-width="0.8"/>
<line x1="259.20" y1="364.80" x2="259.20" y2="366.40" stroke="#555" stroke-width="0.8"/>
<text x="205.35" y="281.60" font-size="9.5" font-weight="bold" fill="#000" textLength="41.18" lengthAdjust="spacingAndGlyphs">SNU-484</text>
<polyline points="204.00,312.60 204.00,295.6 242.60,295.6 242.60,358.00" fill="none" stroke="#8a8a8a" stroke-width="1.0"/>
<polyline points="244.40,358.00 244.40,295.6 256.40,295.6 256.40,300.90" fill="none" stroke="#8a8a8a" stroke-width="1.0"/>
<text x="208.85" y="291.90" font-size="5.2" font-weight="bold" font-style="italic" fill="#111" textLength="3.34" lengthAdjust="spacingAndGlyphs">p</text>
<text x="213.69" y="291.90" font-size="5.2" fill="#111" textLength="20.50" lengthAdjust="spacingAndGlyphs">&lt; 0.0001</text>
<text x="242.25" y="291.90" font-size="5.2" font-weight="bold" font-style="italic" fill="#111" textLength="3.34" lengthAdjust="spacingAndGlyphs">p</text>
<text x="247.09" y="291.90" font-size="5.2" fill="#111" textLength="20.09" lengthAdjust="spacingAndGlyphs">&lt; 0.0001</text>
<line x1="189.40" y1="375.80" x2="192.00" y2="375.80" stroke="#333" stroke-width="0.9"/>
<line x1="202.20" y1="375.80" x2="206.80" y2="375.80" stroke="#111" stroke-width="1.0"/>
<line x1="204.50" y1="373.50" x2="204.50" y2="378.10" stroke="#111" stroke-width="1.0"/>
<line x1="215.90" y1="375.80" x2="220.50" y2="375.80" stroke="#111" stroke-width="1.0"/>
<line x1="218.20" y1="373.50" x2="218.20" y2="378.10" stroke="#111" stroke-width="1.0"/>
<line x1="230.70" y1="375.80" x2="233.30" y2="375.80" stroke="#333" stroke-width="0.9"/>
<line x1="243.20" y1="375.80" x2="247.80" y2="375.80" stroke="#111" stroke-width="1.0"/>
<line x1="245.50" y1="373.50" x2="245.50" y2="378.10" stroke="#111" stroke-width="1.0"/>
<line x1="256.90" y1="375.80" x2="261.50" y2="375.80" stroke="#111" stroke-width="1.0"/>
<line x1="259.20" y1="373.50" x2="259.20" y2="378.10" stroke="#111" stroke-width="1.0"/>
<line x1="189.40" y1="385.10" x2="192.00" y2="385.10" stroke="#333" stroke-width="0.9"/>
<line x1="203.20" y1="385.10" x2="205.80" y2="385.10" stroke="#333" stroke-width="0.9"/>
<line x1="216.90" y1="385.10" x2="219.50" y2="385.10" stroke="#333" stroke-width="0.9"/>
<line x1="229.70" y1="385.10" x2="234.30" y2="385.10" stroke="#111" stroke-width="1.0"/>
<line x1="232.00" y1="382.80" x2="232.00" y2="387.40" stroke="#111" stroke-width="1.0"/>
<line x1="243.20" y1="385.10" x2="247.80" y2="385.10" stroke="#111" stroke-width="1.0"/>
<line x1="245.50" y1="382.80" x2="245.50" y2="387.40" stroke="#111" stroke-width="1.0"/>
<line x1="256.90" y1="385.10" x2="261.50" y2="385.10" stroke="#111" stroke-width="1.0"/>
<line x1="259.20" y1="382.80" x2="259.20" y2="387.40" stroke="#111" stroke-width="1.0"/>
<line x1="189.40" y1="394.50" x2="192.00" y2="394.50" stroke="#333" stroke-width="0.9"/>
<line x1="203.20" y1="394.50" x2="205.80" y2="394.50" stroke="#333" stroke-width="0.9"/>
<line x1="215.90" y1="394.50" x2="220.50" y2="394.50" stroke="#111" stroke-width="1.0"/>
<line x1="218.20" y1="392.20" x2="218.20" y2="396.80" stroke="#111" stroke-width="1.0"/>
<line x1="230.70" y1="394.50" x2="233.30" y2="394.50" stroke="#333" stroke-width="0.9"/>
<line x1="244.20" y1="394.50" x2="246.80" y2="394.50" stroke="#333" stroke-width="0.9"/>
<line x1="256.90" y1="394.50" x2="261.50" y2="394.50" stroke="#111" stroke-width="1.0"/>
<line x1="259.20" y1="392.20" x2="259.20" y2="396.80" stroke="#111" stroke-width="1.0"/>
<rect x="297.10" y="311.50" width="7.80" height="53.30" fill="#fff" stroke="#111" stroke-width="1.05"/>
<circle cx="298.00" cy="311.50" r="0.75" fill="#222" stroke="none" stroke-width="0"/>
<circle cx="299.50" cy="311.50" r="0.75" fill="#222" stroke="none" stroke-width="0"/>
<circle cx="301.00" cy="311.50" r="0.75" fill="#222" stroke="none" stroke-width="0"/>
<circle cx="302.50" cy="311.50" r="0.75" fill="#222" stroke="none" stroke-width="0"/>
<circle cx="304.00" cy="311.50" r="0.75" fill="#222" stroke="none" stroke-width="0"/>
<rect x="310.80" y="319.04" width="7.80" height="45.76" fill="#fff" stroke="#111" stroke-width="1.05"/>
<line x1="314.70" y1="319.04" x2="314.70" y2="317.43" stroke="#111" stroke-width="0.8"/>
<line x1="313.20" y1="317.43" x2="316.20" y2="317.43" stroke="#111" stroke-width="0.8"/>
<circle cx="312.10" cy="320.09" r="0.75" fill="#222" stroke="none" stroke-width="0"/>
<circle cx="314.70" cy="318.63" r="0.75" fill="#222" stroke="none" stroke-width="0"/>
<circle cx="317.30" cy="320.73" r="0.75" fill="#222" stroke="none" stroke-width="0"/>
<rect x="324.60" y="320.66" width="7.80" height="44.14" fill="#fff" stroke="#111" stroke-width="1.05"/>
<line x1="328.50" y1="320.66" x2="328.50" y2="320.12" stroke="#111" stroke-width="0.8"/>
<line x1="327.00" y1="320.12" x2="330.00" y2="320.12" stroke="#111" stroke-width="0.8"/>
<circle cx="325.90" cy="321.27" r="0.75" fill="#222" stroke="none" stroke-width="0"/>
<circle cx="328.50" cy="320.79" r="0.75" fill="#222" stroke="none" stroke-width="0"/>
<circle cx="331.10" cy="321.49" r="0.75" fill="#222" stroke="none" stroke-width="0"/>
<rect x="338.40" y="314.74" width="7.80" height="50.06" fill="#fff" stroke="#111" stroke-width="1.05"/>
<line x1="342.30" y1="314.74" x2="342.30" y2="312.58" stroke="#111" stroke-width="0.8"/>
<line x1="340.80" y1="312.58" x2="343.80" y2="312.58" stroke="#111" stroke-width="0.8"/>
<circle cx="339.70" cy="316.00" r="0.75" fill="#222" stroke="none" stroke-width="0"/>
<circle cx="342.30" cy="314.06" r="0.75" fill="#222" stroke="none" stroke-width="0"/>
<circle cx="344.90" cy="316.86" r="0.75" fill="#222" stroke="none" stroke-width="0"/>
<rect x="352.10" y="361.57" width="7.80" height="3.23" fill="#fff" stroke="#111" stroke-width="1.05"/>
<line x1="356.00" y1="361.57" x2="356.00" y2="361.03" stroke="#111" stroke-width="0.8"/>
<line x1="354.50" y1="361.03" x2="357.50" y2="361.03" stroke="#111" stroke-width="0.8"/>
<circle cx="353.40" cy="362.19" r="0.75" fill="#222" stroke="none" stroke-width="0"/>
<circle cx="356.00" cy="361.70" r="0.75" fill="#222" stroke="none" stroke-width="0"/>
<circle cx="358.60" cy="362.40" r="0.75" fill="#222" stroke="none" stroke-width="0"/>
<rect x="365.60" y="320.12" width="7.80" height="44.68" fill="#fff" stroke="#111" stroke-width="1.05"/>
<line x1="369.50" y1="320.12" x2="369.50" y2="319.04" stroke="#111" stroke-width="0.8"/>
<line x1="368.00" y1="319.04" x2="371.00" y2="319.04" stroke="#111" stroke-width="0.8"/>
<circle cx="366.90" cy="320.95" r="0.75" fill="#222" stroke="none" stroke-width="0"/>
<circle cx="369.50" cy="319.98" r="0.75" fill="#222" stroke="none" stroke-width="0"/>
<circle cx="372.10" cy="321.38" r="0.75" fill="#222" stroke="none" stroke-width="0"/>
<line x1="292.40" y1="365.30" x2="292.40" y2="300.20" stroke="#111" stroke-width="1.0"/>
<line x1="289.40" y1="364.80" x2="292.40" y2="364.80" stroke="#222" stroke-width="0.9"/>
<text x="284.62" y="366.90" font-size="6.3" fill="#111" textLength="4.13" lengthAdjust="spacingAndGlyphs">0</text>
<line x1="289.40" y1="354.03" x2="292.40" y2="354.03" stroke="#222" stroke-width="0.9"/>
<text x="280.50" y="356.13" font-size="6.3" fill="#111" textLength="8.27" lengthAdjust="spacingAndGlyphs">20</text>
<line x1="289.40" y1="343.27" x2="292.40" y2="343.27" stroke="#222" stroke-width="0.9"/>
<text x="280.50" y="345.37" font-size="6.3" fill="#111" textLength="8.27" lengthAdjust="spacingAndGlyphs">40</text>
<line x1="289.40" y1="332.50" x2="292.40" y2="332.50" stroke="#222" stroke-width="0.9"/>
<text x="280.50" y="334.60" font-size="6.3" fill="#111" textLength="8.27" lengthAdjust="spacingAndGlyphs">60</text>
<line x1="289.40" y1="321.73" x2="292.40" y2="321.73" stroke="#222" stroke-width="0.9"/>
<text x="280.50" y="323.83" font-size="6.3" fill="#111" textLength="8.27" lengthAdjust="spacingAndGlyphs">80</text>
<line x1="289.40" y1="310.97" x2="292.40" y2="310.97" stroke="#222" stroke-width="0.9"/>
<text x="276.37" y="313.07" font-size="6.3" fill="#111" textLength="12.40" lengthAdjust="spacingAndGlyphs">100</text>
<line x1="289.40" y1="300.20" x2="292.40" y2="300.20" stroke="#222" stroke-width="0.9"/>
<text x="276.37" y="302.30" font-size="6.3" fill="#111" textLength="12.40" lengthAdjust="spacingAndGlyphs">120</text>
<line x1="292.40" y1="364.80" x2="378.00" y2="364.80" stroke="#111" stroke-width="1.0"/>
<line x1="301.00" y1="364.80" x2="301.00" y2="366.40" stroke="#555" stroke-width="0.8"/>
<line x1="314.70" y1="364.80" x2="314.70" y2="366.40" stroke="#555" stroke-width="0.8"/>
<line x1="328.50" y1="364.80" x2="328.50" y2="366.40" stroke="#555" stroke-width="0.8"/>
<line x1="342.30" y1="364.80" x2="342.30" y2="366.40" stroke="#555" stroke-width="0.8"/>
<line x1="356.00" y1="364.80" x2="356.00" y2="366.40" stroke="#555" stroke-width="0.8"/>
<line x1="369.50" y1="364.80" x2="369.50" y2="366.40" stroke="#555" stroke-width="0.8"/>
<text x="316.75" y="281.60" font-size="9.5" font-weight="bold" fill="#000" textLength="35.36" lengthAdjust="spacingAndGlyphs">YCC-16</text>
<polyline points="314.20,303.50 314.20,295.6 351.30,295.6 351.30,358.50" fill="none" stroke="#8a8a8a" stroke-width="1.0"/>
<polyline points="354.20,358.50 354.20,295.6 366.40,295.6 366.40,305.60" fill="none" stroke="#8a8a8a" stroke-width="1.0"/>
<text x="319.15" y="291.90" font-size="5.2" font-weight="bold" font-style="italic" fill="#111" textLength="3.34" lengthAdjust="spacingAndGlyphs">p</text>
<text x="323.98" y="291.90" font-size="5.2" fill="#111" textLength="20.91" lengthAdjust="spacingAndGlyphs">&lt; 0.0001</text>
<text x="352.65" y="291.90" font-size="5.2" font-weight="bold" font-style="italic" fill="#111" textLength="3.34" lengthAdjust="spacingAndGlyphs">p</text>
<text x="357.49" y="291.90" font-size="5.2" fill="#111" textLength="20.60" lengthAdjust="spacingAndGlyphs">&lt; 0.0001</text>
<line x1="299.70" y1="375.80" x2="302.30" y2="375.80" stroke="#333" stroke-width="0.9"/>
<line x1="312.40" y1="375.80" x2="317.00" y2="375.80" stroke="#111" stroke-width="1.0"/>
<line x1="314.70" y1="373.50" x2="314.70" y2="378.10" stroke="#111" stroke-width="1.0"/>
<line x1="326.20" y1="375.80" x2="330.80" y2="375.80" stroke="#111" stroke-width="1.0"/>
<line x1="328.50" y1="373.50" x2="328.50" y2="378.10" stroke="#111" stroke-width="1.0"/>
<line x1="341.00" y1="375.80" x2="343.60" y2="375.80" stroke="#333" stroke-width="0.9"/>
<line x1="353.70" y1="375.80" x2="358.30" y2="375.80" stroke="#111" stroke-width="1.0"/>
<line x1="356.00" y1="373.50" x2="356.00" y2="378.10" stroke="#111" stroke-width="1.0"/>
<line x1="367.20" y1="375.80" x2="371.80" y2="375.80" stroke="#111" stroke-width="1.0"/>
<line x1="369.50" y1="373.50" x2="369.50" y2="378.10" stroke="#111" stroke-width="1.0"/>
<line x1="299.70" y1="385.10" x2="302.30" y2="385.10" stroke="#333" stroke-width="0.9"/>
<line x1="313.40" y1="385.10" x2="316.00" y2="385.10" stroke="#333" stroke-width="0.9"/>
<line x1="327.20" y1="385.10" x2="329.80" y2="385.10" stroke="#333" stroke-width="0.9"/>
<line x1="340.00" y1="385.10" x2="344.60" y2="385.10" stroke="#111" stroke-width="1.0"/>
<line x1="342.30" y1="382.80" x2="342.30" y2="387.40" stroke="#111" stroke-width="1.0"/>
<line x1="353.70" y1="385.10" x2="358.30" y2="385.10" stroke="#111" stroke-width="1.0"/>
<line x1="356.00" y1="382.80" x2="356.00" y2="387.40" stroke="#111" stroke-width="1.0"/>
<line x1="367.20" y1="385.10" x2="371.80" y2="385.10" stroke="#111" stroke-width="1.0"/>
<line x1="369.50" y1="382.80" x2="369.50" y2="387.40" stroke="#111" stroke-width="1.0"/>
<line x1="299.70" y1="394.50" x2="302.30" y2="394.50" stroke="#333" stroke-width="0.9"/>
<line x1="313.40" y1="394.50" x2="316.00" y2="394.50" stroke="#333" stroke-width="0.9"/>
<line x1="326.20" y1="394.50" x2="330.80" y2="394.50" stroke="#111" stroke-width="1.0"/>
<line x1="328.50" y1="392.20" x2="328.50" y2="396.80" stroke="#111" stroke-width="1.0"/>
<line x1="341.00" y1="394.50" x2="343.60" y2="394.50" stroke="#333" stroke-width="0.9"/>
<line x1="354.70" y1="394.50" x2="357.30" y2="394.50" stroke="#333" stroke-width="0.9"/>
<line x1="367.20" y1="394.50" x2="371.80" y2="394.50" stroke="#111" stroke-width="1.0"/>
<line x1="369.50" y1="392.20" x2="369.50" y2="396.80" stroke="#111" stroke-width="1.0"/>
<rect x="403.20" y="311.24" width="7.80" height="53.56" fill="#fff" stroke="#111" stroke-width="1.05"/>
<circle cx="404.10" cy="311.24" r="0.75" fill="#222" stroke="none" stroke-width="0"/>
<circle cx="405.60" cy="311.24" r="0.75" fill="#222" stroke="none" stroke-width="0"/>
<circle cx="407.10" cy="311.24" r="0.75" fill="#222" stroke="none" stroke-width="0"/>
<circle cx="408.60" cy="311.24" r="0.75" fill="#222" stroke="none" stroke-width="0"/>
<circle cx="410.10" cy="311.24" r="0.75" fill="#222" stroke="none" stroke-width="0"/>
<rect x="416.80" y="320.44" width="7.80" height="44.36" fill="#fff" stroke="#111" stroke-width="1.05"/>
<line x1="420.70" y1="320.44" x2="420.70" y2="319.36" stroke="#111" stroke-width="0.8"/>
<line x1="419.20" y1="319.36" x2="422.20" y2="319.36" stroke="#111" stroke-width="0.8"/>
<circle cx="418.10" cy="321.27" r="0.75" fill="#222" stroke="none" stroke-width="0"/>
<circle cx="420.70" cy="320.30" r="0.75" fill="#222" stroke="none" stroke-width="0"/>
<circle cx="423.30" cy="321.70" r="0.75" fill="#222" stroke="none" stroke-width="0"/>
<rect x="429.80" y="314.20" width="7.80" height="50.60" fill="#fff" stroke="#111" stroke-width="1.05"/>
<line x1="433.70" y1="314.20" x2="433.70" y2="312.58" stroke="#111" stroke-width="0.8"/>
<line x1="432.20" y1="312.58" x2="435.20" y2="312.58" stroke="#111" stroke-width="0.8"/>
<circle cx="431.10" cy="315.24" r="0.75" fill="#222" stroke="none" stroke-width="0"/>
<circle cx="433.70" cy="313.79" r="0.75" fill="#222" stroke="none" stroke-width="0"/>
<circle cx="436.30" cy="315.89" r="0.75" fill="#222" stroke="none" stroke-width="0"/>
<rect x="443.50" y="311.61" width="7.80" height="53.19" fill="#fff" stroke="#111" stroke-width="1.05"/>
<line x1="447.40" y1="311.61" x2="447.40" y2="311.07" stroke="#111" stroke-width="0.8"/>
<line x1="445.90" y1="311.07" x2="448.90" y2="311.07" stroke="#111" stroke-width="0.8"/>
<circle cx="444.80" cy="312.23" r="0.75" fill="#222" stroke="none" stroke-width="0"/>
<circle cx="447.40" cy="311.74" r="0.75" fill="#222" stroke="none" stroke-width="0"/>
<circle cx="450.00" cy="312.44" r="0.75" fill="#222" stroke="none" stroke-width="0"/>
<rect x="456.80" y="352.10" width="7.80" height="12.70" fill="#fff" stroke="#111" stroke-width="1.05"/>
<line x1="460.70" y1="352.10" x2="460.70" y2="351.56" stroke="#111" stroke-width="0.8"/>
<line x1="459.20" y1="351.56" x2="462.20" y2="351.56" stroke="#111" stroke-width="0.8"/>
<circle cx="458.10" cy="352.71" r="0.75" fill="#222" stroke="none" stroke-width="0"/>
<circle cx="460.70" cy="352.23" r="0.75" fill="#222" stroke="none" stroke-width="0"/>
<circle cx="463.30" cy="352.93" r="0.75" fill="#222" stroke="none" stroke-width="0"/>
<rect x="470.40" y="313.12" width="7.80" height="51.68" fill="#fff" stroke="#111" stroke-width="1.05"/>
<line x1="474.30" y1="313.12" x2="474.30" y2="310.97" stroke="#111" stroke-width="0.8"/>
<line x1="472.80" y1="310.97" x2="475.80" y2="310.97" stroke="#111" stroke-width="0.8"/>
<circle cx="471.70" cy="314.38" r="0.75" fill="#222" stroke="none" stroke-width="0"/>
<circle cx="474.30" cy="312.44" r="0.75" fill="#222" stroke="none" stroke-width="0"/>
<circle cx="476.90" cy="315.24" r="0.75" fill="#222" stroke="none" stroke-width="0"/>
<line x1="401.10" y1="365.30" x2="401.10" y2="300.20" stroke="#111" stroke-width="1.0"/>
<line x1="398.10" y1="364.80" x2="401.10" y2="364.80" stroke="#222" stroke-width="0.9"/>
<text x="393.32" y="366.90" font-size="6.3" fill="#111" textLength="4.13" lengthAdjust="spacingAndGlyphs">0</text>
<line x1="398.10" y1="354.03" x2="401.10" y2="354.03" stroke="#222" stroke-width="0.9"/>
<text x="389.20" y="356.13" font-size="6.3" fill="#111" textLength="8.27" lengthAdjust="spacingAndGlyphs">20</text>
<line x1="398.10" y1="343.27" x2="401.10" y2="343.27" stroke="#222" stroke-width="0.9"/>
<text x="389.20" y="345.37" font-size="6.3" fill="#111" textLength="8.27" lengthAdjust="spacingAndGlyphs">40</text>
<line x1="398.10" y1="332.50" x2="401.10" y2="332.50" stroke="#222" stroke-width="0.9"/>
<text x="389.20" y="334.60" font-size="6.3" fill="#111" textLength="8.27" lengthAdjust="spacingAndGlyphs">60</text>
<line x1="398.10" y1="321.73" x2="401.10" y2="321.73" stroke="#222" stroke-width="0.9"/>
<text x="389.20" y="323.83" font-size="6.3" fill="#111" textLength="8.27" lengthAdjust="spacingAndGlyphs">80</text>
<line x1="398.10" y1="310.97" x2="401.10" y2="310.97" stroke="#222" stroke-width="0.9"/>
<text x="385.07" y="313.07" font-size="6.3" fill="#111" textLength="12.40" lengthAdjust="spacingAndGlyphs">100</text>
<line x1="398.10" y1="300.20" x2="401.10" y2="300.20" stroke="#222" stroke-width="0.9"/>
<text x="385.07" y="302.30" font-size="6.3" fill="#111" textLength="12.40" lengthAdjust="spacingAndGlyphs">120</text>
<line x1="401.10" y1="364.80" x2="483.80" y2="364.80" stroke="#111" stroke-width="1.0"/>
<line x1="407.10" y1="364.80" x2="407.10" y2="366.40" stroke="#555" stroke-width="0.8"/>
<line x1="420.70" y1="364.80" x2="420.70" y2="366.40" stroke="#555" stroke-width="0.8"/>
<line x1="433.70" y1="364.80" x2="433.70" y2="366.40" stroke="#555" stroke-width="0.8"/>
<line x1="447.40" y1="364.80" x2="447.40" y2="366.40" stroke="#555" stroke-width="0.8"/>
<line x1="460.70" y1="364.80" x2="460.70" y2="366.40" stroke="#555" stroke-width="0.8"/>
<line x1="474.30" y1="364.80" x2="474.30" y2="366.40" stroke="#555" stroke-width="0.8"/>
<text x="424.19" y="281.60" font-size="9.5" font-weight="bold" fill="#000" textLength="30.14" lengthAdjust="spacingAndGlyphs">H1299</text>
<polyline points="418.40,304.00 418.40,295.6 456.90,295.6 456.90,341.00" fill="none" stroke="#8a8a8a" stroke-width="1.0"/>
<polyline points="458.80,341.00 458.80,295.6 471.40,295.6 471.40,303.30" fill="none" stroke="#8a8a8a" stroke-width="1.0"/>
<text x="421.55" y="291.90" font-size="5.2" font-weight="bold" font-style="italic" fill="#111" textLength="3.34" lengthAdjust="spacingAndGlyphs">p</text>
<text x="426.38" y="291.90" font-size="5.2" fill="#111" textLength="21.32" lengthAdjust="spacingAndGlyphs">&lt; 0.0001</text>
<text x="459.15" y="291.90" font-size="5.2" font-weight="bold" font-style="italic" fill="#111" textLength="3.34" lengthAdjust="spacingAndGlyphs">p</text>
<text x="463.98" y="291.90" font-size="5.2" fill="#111" textLength="21.39" lengthAdjust="spacingAndGlyphs">= 0.0005</text>
<line x1="405.80" y1="375.80" x2="408.40" y2="375.80" stroke="#333" stroke-width="0.9"/>
<line x1="418.40" y1="375.80" x2="423.00" y2="375.80" stroke="#111" stroke-width="1.0"/>
<line x1="420.70" y1="373.50" x2="420.70" y2="378.10" stroke="#111" stroke-width="1.0"/>
<line x1="431.40" y1="375.80" x2="436.00" y2="375.80" stroke="#111" stroke-width="1.0"/>
<line x1="433.70" y1="373.50" x2="433.70" y2="378.10" stroke="#111" stroke-width="1.0"/>
<line x1="446.10" y1="375.80" x2="448.70" y2="375.80" stroke="#333" stroke-width="0.9"/>
<line x1="458.40" y1="375.80" x2="463.00" y2="375.80" stroke="#111" stroke-width="1.0"/>
<line x1="460.70" y1="373.50" x2="460.70" y2="378.10" stroke="#111" stroke-width="1.0"/>
<line x1="472.00" y1="375.80" x2="476.60" y2="375.80" stroke="#111" stroke-width="1.0"/>
<line x1="474.30" y1="373.50" x2="474.30" y2="378.10" stroke="#111" stroke-width="1.0"/>
<line x1="405.80" y1="385.10" x2="408.40" y2="385.10" stroke="#333" stroke-width="0.9"/>
<line x1="419.40" y1="385.10" x2="422.00" y2="385.10" stroke="#333" stroke-width="0.9"/>
<line x1="432.40" y1="385.10" x2="435.00" y2="385.10" stroke="#333" stroke-width="0.9"/>
<line x1="445.10" y1="385.10" x2="449.70" y2="385.10" stroke="#111" stroke-width="1.0"/>
<line x1="447.40" y1="382.80" x2="447.40" y2="387.40" stroke="#111" stroke-width="1.0"/>
<line x1="458.40" y1="385.10" x2="463.00" y2="385.10" stroke="#111" stroke-width="1.0"/>
<line x1="460.70" y1="382.80" x2="460.70" y2="387.40" stroke="#111" stroke-width="1.0"/>
<line x1="472.00" y1="385.10" x2="476.60" y2="385.10" stroke="#111" stroke-width="1.0"/>
<line x1="474.30" y1="382.80" x2="474.30" y2="387.40" stroke="#111" stroke-width="1.0"/>
<line x1="405.80" y1="394.50" x2="408.40" y2="394.50" stroke="#333" stroke-width="0.9"/>
<line x1="419.40" y1="394.50" x2="422.00" y2="394.50" stroke="#333" stroke-width="0.9"/>
<line x1="431.40" y1="394.50" x2="436.00" y2="394.50" stroke="#111" stroke-width="1.0"/>
<line x1="433.70" y1="392.20" x2="433.70" y2="396.80" stroke="#111" stroke-width="1.0"/>
<line x1="446.10" y1="394.50" x2="448.70" y2="394.50" stroke="#333" stroke-width="0.9"/>
<line x1="459.40" y1="394.50" x2="462.00" y2="394.50" stroke="#333" stroke-width="0.9"/>
<line x1="472.00" y1="394.50" x2="476.60" y2="394.50" stroke="#111" stroke-width="1.0"/>
<line x1="474.30" y1="392.20" x2="474.30" y2="396.80" stroke="#111" stroke-width="1.0"/>
<circle cx="161.30" cy="305.40" r="0.55" fill="#333" stroke="none" stroke-width="0"/>
<circle cx="161.30" cy="314.20" r="0.55" fill="#333" stroke="none" stroke-width="0"/>
<circle cx="161.30" cy="320.80" r="0.55" fill="#333" stroke="none" stroke-width="0"/>
<text x="28.44" y="378.00" font-size="8.2" fill="#111" textLength="40.91" lengthAdjust="spacingAndGlyphs">PACMA31</text>
<text x="26.63" y="387.60" font-size="8.2" fill="#111" textLength="43.60" lengthAdjust="spacingAndGlyphs">Darapladib</text>
<text x="48.25" y="397.90" font-size="8.2" fill="#111" textLength="20.78" lengthAdjust="spacingAndGlyphs">Fer-1</text>
<text transform="translate(54.94,359.95) scale(1.1,1) rotate(-90)" font-size="8.6" fill="#111" textLength="56.60" lengthAdjust="spacingAndGlyphs">Cell viability (%)</text>
<line x1="558.20" y1="368.80" x2="558.20" y2="296.10" stroke="#222" stroke-width="1.1"/>
<line x1="556.20" y1="368.30" x2="558.20" y2="368.30" stroke="#111" stroke-width="0.9"/>
<text x="547.63" y="371.00" font-size="7.5" fill="#111" textLength="4.34" lengthAdjust="spacingAndGlyphs">0</text>
<line x1="556.20" y1="356.27" x2="558.20" y2="356.27" stroke="#111" stroke-width="0.9"/>
<text x="543.30" y="358.97" font-size="7.5" fill="#111" textLength="8.68" lengthAdjust="spacingAndGlyphs">20</text>
<line x1="556.20" y1="344.23" x2="558.20" y2="344.23" stroke="#111" stroke-width="0.9"/>
<text x="543.30" y="346.93" font-size="7.5" fill="#111" textLength="8.68" lengthAdjust="spacingAndGlyphs">40</text>
<line x1="556.20" y1="332.20" x2="558.20" y2="332.20" stroke="#111" stroke-width="0.9"/>
<text x="543.30" y="334.90" font-size="7.5" fill="#111" textLength="8.68" lengthAdjust="spacingAndGlyphs">60</text>
<line x1="556.20" y1="320.17" x2="558.20" y2="320.17" stroke="#111" stroke-width="0.9"/>
<text x="543.30" y="322.87" font-size="7.5" fill="#111" textLength="8.68" lengthAdjust="spacingAndGlyphs">80</text>
<line x1="556.20" y1="308.13" x2="558.20" y2="308.13" stroke="#111" stroke-width="0.9"/>
<text x="538.98" y="310.83" font-size="7.5" fill="#111" textLength="13.01" lengthAdjust="spacingAndGlyphs">100</text>
<line x1="556.20" y1="296.10" x2="558.20" y2="296.10" stroke="#111" stroke-width="0.9"/>
<text x="538.98" y="298.80" font-size="7.5" fill="#111" textLength="13.01" lengthAdjust="spacingAndGlyphs">120</text>
<line x1="558.20" y1="368.30" x2="639.40" y2="368.30" stroke="#222" stroke-width="1.1"/>
<line x1="565.40" y1="368.30" x2="565.40" y2="370.30" stroke="#222" stroke-width="0.9"/>
<line x1="579.00" y1="368.30" x2="579.00" y2="370.30" stroke="#222" stroke-width="0.9"/>
<line x1="592.60" y1="368.30" x2="592.60" y2="370.30" stroke="#222" stroke-width="0.9"/>
<line x1="605.80" y1="368.30" x2="605.80" y2="370.30" stroke="#222" stroke-width="0.9"/>
<line x1="619.40" y1="368.30" x2="619.40" y2="370.30" stroke="#222" stroke-width="0.9"/>
<line x1="632.80" y1="368.30" x2="632.80" y2="370.30" stroke="#222" stroke-width="0.9"/>
<line x1="639.40" y1="368.30" x2="639.40" y2="370.30" stroke="#222" stroke-width="0.9"/>
<polyline points="565.40,308.13 579.00,312.35 592.60,318.36 605.80,319.56 619.40,320.47 632.80,327.99" fill="none" stroke="#000" stroke-width="1.1" stroke-linejoin="round"/>
<line x1="579.00" y1="311.14" x2="579.00" y2="313.55" stroke="#222" stroke-width="0.9"/>
<line x1="577.40" y1="311.14" x2="580.60" y2="311.14" stroke="#222" stroke-width="0.9"/>
<line x1="577.40" y1="313.55" x2="580.60" y2="313.55" stroke="#222" stroke-width="0.9"/>
<line x1="592.60" y1="317.16" x2="592.60" y2="319.56" stroke="#222" stroke-width="0.9"/>
<line x1="591.00" y1="317.16" x2="594.20" y2="317.16" stroke="#222" stroke-width="0.9"/>
<line x1="591.00" y1="319.56" x2="594.20" y2="319.56" stroke="#222" stroke-width="0.9"/>
<line x1="605.80" y1="318.36" x2="605.80" y2="320.77" stroke="#222" stroke-width="0.9"/>
<line x1="604.20" y1="318.36" x2="607.40" y2="318.36" stroke="#222" stroke-width="0.9"/>
<line x1="604.20" y1="320.77" x2="607.40" y2="320.77" stroke="#222" stroke-width="0.9"/>
<line x1="619.40" y1="319.26" x2="619.40" y2="321.67" stroke="#222" stroke-width="0.9"/>
<line x1="617.80" y1="319.26" x2="621.00" y2="319.26" stroke="#222" stroke-width="0.9"/>
<line x1="617.80" y1="321.67" x2="621.00" y2="321.67" stroke="#222" stroke-width="0.9"/>
<line x1="632.80" y1="324.98" x2="632.80" y2="331.00" stroke="#222" stroke-width="0.9"/>
<line x1="631.20" y1="324.98" x2="634.40" y2="324.98" stroke="#222" stroke-width="0.9"/>
<line x1="631.20" y1="331.00" x2="634.40" y2="331.00" stroke="#222" stroke-width="0.9"/>
<circle cx="565.40" cy="308.13" r="2.5" fill="#000" stroke="none" stroke-width="0"/>
<circle cx="579.00" cy="312.35" r="2.5" fill="#000" stroke="none" stroke-width="0"/>
<rect x="590.40" y="316.16" width="4.40" height="4.40" rx="0.6" fill="#000"/>
<rect x="603.60" y="317.37" width="4.40" height="4.40" rx="0.6" fill="#000"/>
<rect x="617.20" y="318.27" width="4.40" height="4.40" rx="0.6" fill="#000"/>
<circle cx="632.80" cy="327.99" r="2.5" fill="#000" stroke="none" stroke-width="0"/>
<polyline points="565.40,308.13 579.00,320.17 592.60,332.20 605.80,340.02 619.40,349.05 632.80,354.46" fill="none" stroke="#c0c0c0" stroke-width="1.3" stroke-linejoin="round"/>
<line x1="579.00" y1="318.36" x2="579.00" y2="321.97" stroke="#999" stroke-width="0.9"/>
<line x1="577.40" y1="318.36" x2="580.60" y2="318.36" stroke="#999" stroke-width="0.9"/>
<line x1="577.40" y1="321.97" x2="580.60" y2="321.97" stroke="#999" stroke-width="0.9"/>
<line x1="592.60" y1="330.40" x2="592.60" y2="334.00" stroke="#999" stroke-width="0.9"/>
<line x1="591.00" y1="330.40" x2="594.20" y2="330.40" stroke="#999" stroke-width="0.9"/>
<line x1="591.00" y1="334.00" x2="594.20" y2="334.00" stroke="#999" stroke-width="0.9"/>
<line x1="605.80" y1="338.22" x2="605.80" y2="341.83" stroke="#999" stroke-width="0.9"/>
<line x1="604.20" y1="338.22" x2="607.40" y2="338.22" stroke="#999" stroke-width="0.9"/>
<line x1="604.20" y1="341.83" x2="607.40" y2="341.83" stroke="#999" stroke-width="0.9"/>
<line x1="619.40" y1="347.84" x2="619.40" y2="350.25" stroke="#999" stroke-width="0.9"/>
<line x1="617.80" y1="347.84" x2="621.00" y2="347.84" stroke="#999" stroke-width="0.9"/>
<line x1="617.80" y1="350.25" x2="621.00" y2="350.25" stroke="#999" stroke-width="0.9"/>
<line x1="632.80" y1="352.66" x2="632.80" y2="356.27" stroke="#999" stroke-width="0.9"/>
<line x1="631.20" y1="352.66" x2="634.40" y2="352.66" stroke="#999" stroke-width="0.9"/>
<line x1="631.20" y1="356.27" x2="634.40" y2="356.27" stroke="#999" stroke-width="0.9"/>
<circle cx="565.40" cy="308.13" r="2.5" fill="#c0c0c0" stroke="none" stroke-width="0"/>
<circle cx="579.00" cy="320.17" r="2.5" fill="#c0c0c0" stroke="none" stroke-width="0"/>
<circle cx="592.60" cy="332.20" r="2.5" fill="#c0c0c0" stroke="none" stroke-width="0"/>
<circle cx="605.80" cy="340.02" r="2.5" fill="#c0c0c0" stroke="none" stroke-width="0"/>
<circle cx="619.40" cy="349.05" r="2.5" fill="#c0c0c0" stroke="none" stroke-width="0"/>
<circle cx="632.80" cy="354.46" r="2.5" fill="#c0c0c0" stroke="none" stroke-width="0"/>
<polyline points="565.40,308.13 579.00,321.37 592.60,332.20 605.80,340.62 619.40,349.95 632.80,353.26" fill="none" stroke="#fbb800" stroke-width="1.3" stroke-linejoin="round"/>
<line x1="579.00" y1="319.56" x2="579.00" y2="323.18" stroke="#777" stroke-width="0.9"/>
<line x1="577.40" y1="319.56" x2="580.60" y2="319.56" stroke="#777" stroke-width="0.9"/>
<line x1="577.40" y1="323.18" x2="580.60" y2="323.18" stroke="#777" stroke-width="0.9"/>
<line x1="592.60" y1="331.00" x2="592.60" y2="333.40" stroke="#777" stroke-width="0.9"/>
<line x1="591.00" y1="331.00" x2="594.20" y2="331.00" stroke="#777" stroke-width="0.9"/>
<line x1="591.00" y1="333.40" x2="594.20" y2="333.40" stroke="#777" stroke-width="0.9"/>
<line x1="605.80" y1="338.82" x2="605.80" y2="342.43" stroke="#777" stroke-width="0.9"/>
<line x1="604.20" y1="338.82" x2="607.40" y2="338.82" stroke="#777" stroke-width="0.9"/>
<line x1="604.20" y1="342.43" x2="607.40" y2="342.43" stroke="#777" stroke-width="0.9"/>
<line x1="619.40" y1="348.75" x2="619.40" y2="351.15" stroke="#777" stroke-width="0.9"/>
<line x1="617.80" y1="348.75" x2="621.00" y2="348.75" stroke="#777" stroke-width="0.9"/>
<line x1="617.80" y1="351.15" x2="621.00" y2="351.15" stroke="#777" stroke-width="0.9"/>
<line x1="632.80" y1="352.06" x2="632.80" y2="354.46" stroke="#777" stroke-width="0.9"/>
<line x1="631.20" y1="352.06" x2="634.40" y2="352.06" stroke="#777" stroke-width="0.9"/>
<line x1="631.20" y1="354.46" x2="634.40" y2="354.46" stroke="#777" stroke-width="0.9"/>
<circle cx="565.40" cy="308.13" r="2.5" fill="#fbb800" stroke="none" stroke-width="0"/>
<circle cx="579.00" cy="321.37" r="2.5" fill="#fbb800" stroke="none" stroke-width="0"/>
<circle cx="592.60" cy="332.20" r="2.5" fill="#fbb800" stroke="none" stroke-width="0"/>
<circle cx="605.80" cy="340.62" r="2.5" fill="#fbb800" stroke="none" stroke-width="0"/>
<circle cx="619.40" cy="349.95" r="2.5" fill="#fbb800" stroke="none" stroke-width="0"/>
<circle cx="632.80" cy="353.26" r="2.5" fill="#fbb800" stroke="none" stroke-width="0"/>
<polyline points="565.40,308.13 579.00,324.98 592.60,332.20 605.80,341.83 619.40,347.54 632.80,352.36" fill="none" stroke="#5555f4" stroke-width="1.3" stroke-linejoin="round"/>
<line x1="579.00" y1="323.78" x2="579.00" y2="326.18" stroke="#555" stroke-width="0.9"/>
<line x1="577.40" y1="323.78" x2="580.60" y2="323.78" stroke="#555" stroke-width="0.9"/>
<line x1="577.40" y1="326.18" x2="580.60" y2="326.18" stroke="#555" stroke-width="0.9"/>
<line x1="592.60" y1="331.00" x2="592.60" y2="333.40" stroke="#555" stroke-width="0.9"/>
<line x1="591.00" y1="331.00" x2="594.20" y2="331.00" stroke="#555" stroke-width="0.9"/>
<line x1="591.00" y1="333.40" x2="594.20" y2="333.40" stroke="#555" stroke-width="0.9"/>
<line x1="605.80" y1="340.62" x2="605.80" y2="343.03" stroke="#555" stroke-width="0.9"/>
<line x1="604.20" y1="340.62" x2="607.40" y2="340.62" stroke="#555" stroke-width="0.9"/>
<line x1="604.20" y1="343.03" x2="607.40" y2="343.03" stroke="#555" stroke-width="0.9"/>
<line x1="619.40" y1="346.34" x2="619.40" y2="348.75" stroke="#555" stroke-width="0.9"/>
<line x1="617.80" y1="346.34" x2="621.00" y2="346.34" stroke="#555" stroke-width="0.9"/>
<line x1="617.80" y1="348.75" x2="621.00" y2="348.75" stroke="#555" stroke-width="0.9"/>
<line x1="632.80" y1="351.15" x2="632.80" y2="353.56" stroke="#555" stroke-width="0.9"/>
<line x1="631.20" y1="351.15" x2="634.40" y2="351.15" stroke="#555" stroke-width="0.9"/>
<line x1="631.20" y1="353.56" x2="634.40" y2="353.56" stroke="#555" stroke-width="0.9"/>
<circle cx="565.40" cy="308.13" r="2.5" fill="#5555f4" stroke="none" stroke-width="0"/>
<circle cx="579.00" cy="324.98" r="2.5" fill="#5555f4" stroke="none" stroke-width="0"/>
<circle cx="592.60" cy="332.20" r="2.5" fill="#5555f4" stroke="none" stroke-width="0"/>
<circle cx="605.80" cy="341.83" r="2.5" fill="#5555f4" stroke="none" stroke-width="0"/>
<circle cx="619.40" cy="347.54" r="2.5" fill="#5555f4" stroke="none" stroke-width="0"/>
<circle cx="632.80" cy="352.36" r="2.5" fill="#5555f4" stroke="none" stroke-width="0"/>
<text x="582.11" y="287.20" font-size="9.5" font-weight="bold" fill="#000" textLength="34.86" lengthAdjust="spacingAndGlyphs">Hs746T</text>
<text transform="translate(568.21,377.26) scale(1.1,1) rotate(-90)" font-size="7.3" fill="#111" textLength="4.22" lengthAdjust="spacingAndGlyphs">0</text>
<text transform="translate(581.81,387.81) scale(1.1,1) rotate(-90)" font-size="7.3" fill="#111" textLength="14.78" lengthAdjust="spacingAndGlyphs">0.05</text>
<text transform="translate(595.41,383.56) scale(1.1,1) rotate(-90)" font-size="7.3" fill="#111" textLength="10.55" lengthAdjust="spacingAndGlyphs">0.1</text>
<text transform="translate(608.61,387.81) scale(1.1,1) rotate(-90)" font-size="7.3" fill="#111" textLength="14.78" lengthAdjust="spacingAndGlyphs">0.15</text>
<text transform="translate(622.21,383.52) scale(1.1,1) rotate(-90)" font-size="7.3" fill="#111" textLength="10.55" lengthAdjust="spacingAndGlyphs">0.2</text>
<text transform="translate(635.61,387.81) scale(1.1,1) rotate(-90)" font-size="7.3" fill="#111" textLength="14.78" lengthAdjust="spacingAndGlyphs">0.25</text>
<text x="567.31" y="399.30" font-size="8.4" fill="#111" textLength="64.22" lengthAdjust="spacingAndGlyphs">PACMA31 (μM)</text>
<text transform="translate(536.14,360.61) scale(1.1,1) rotate(-90)" font-size="8.6" fill="#111" textLength="65.13" lengthAdjust="spacingAndGlyphs">Cell viability (%)</text>
<text x="638.09" y="314.90" font-size="6.6" fill="#111" textLength="33.95" lengthAdjust="spacingAndGlyphs">Darapladib</text>
<line x1="637.30" y1="321.20" x2="657.70" y2="321.20" stroke="#000" stroke-width="1.0"/>
<circle cx="647.40" cy="321.20" r="1.4" fill="#000" stroke="none" stroke-width="0"/>
<text x="659.22" y="323.20" font-size="5.6" fill="#111" textLength="12.70" lengthAdjust="spacingAndGlyphs">0 μM</text>
<line x1="637.30" y1="328.20" x2="657.70" y2="328.20" stroke="#c8c8c8" stroke-width="1.0"/>
<circle cx="647.40" cy="328.20" r="1.4" fill="#c8c8c8" stroke="none" stroke-width="0"/>
<text x="659.17" y="330.20" font-size="5.6" fill="#111" textLength="12.76" lengthAdjust="spacingAndGlyphs">2 μM</text>
<line x1="637.30" y1="335.30" x2="657.70" y2="335.30" stroke="#fbb800" stroke-width="1.0"/>
<circle cx="647.40" cy="335.30" r="1.4" fill="#fbb800" stroke="none" stroke-width="0"/>
<text x="659.02" y="337.30" font-size="5.6" fill="#111" textLength="12.91" lengthAdjust="spacingAndGlyphs">1 μM</text>
<line x1="637.30" y1="342.30" x2="657.70" y2="342.30" stroke="#5555f4" stroke-width="1.0"/>
<circle cx="647.40" cy="342.30" r="1.4" fill="#5555f4" stroke="none" stroke-width="0"/>
<text x="659.22" y="344.30" font-size="5.6" fill="#111" textLength="17.70" lengthAdjust="spacingAndGlyphs">0.5 μM</text>
<line x1="68.40" y1="503.70" x2="68.40" y2="411.90" stroke="#111" stroke-width="1.0"/>
<line x1="65.90" y1="503.20" x2="68.40" y2="503.20" stroke="#111" stroke-width="0.9"/>
<text x="58.68" y="505.70" font-size="7.0" fill="#111" textLength="4.28" lengthAdjust="spacingAndGlyphs">0</text>
<line x1="65.90" y1="484.94" x2="68.40" y2="484.94" stroke="#111" stroke-width="0.9"/>
<text x="50.14" y="487.44" font-size="7.0" fill="#111" textLength="12.85" lengthAdjust="spacingAndGlyphs">500</text>
<line x1="65.90" y1="466.68" x2="68.40" y2="466.68" stroke="#111" stroke-width="0.9"/>
<text x="45.83" y="469.18" font-size="7.0" fill="#111" textLength="17.13" lengthAdjust="spacingAndGlyphs">1000</text>
<line x1="65.90" y1="448.42" x2="68.40" y2="448.42" stroke="#111" stroke-width="0.9"/>
<text x="45.83" y="450.92" font-size="7.0" fill="#111" textLength="17.13" lengthAdjust="spacingAndGlyphs">1500</text>
<line x1="65.90" y1="430.16" x2="68.40" y2="430.16" stroke="#111" stroke-width="0.9"/>
<text x="45.83" y="432.66" font-size="7.0" fill="#111" textLength="17.13" lengthAdjust="spacingAndGlyphs">2000</text>
<line x1="65.90" y1="411.90" x2="68.40" y2="411.90" stroke="#111" stroke-width="0.9"/>
<text x="45.83" y="414.40" font-size="7.0" fill="#111" textLength="17.13" lengthAdjust="spacingAndGlyphs">2500</text>
<line x1="68.40" y1="503.20" x2="219.60" y2="503.20" stroke="#111" stroke-width="1.0"/>
<line x1="77.10" y1="503.20" x2="77.10" y2="505.20" stroke="#111" stroke-width="0.9"/>
<line x1="92.30" y1="503.20" x2="92.30" y2="505.20" stroke="#111" stroke-width="0.9"/>
<line x1="107.00" y1="503.20" x2="107.00" y2="505.20" stroke="#111" stroke-width="0.9"/>
<line x1="122.20" y1="503.20" x2="122.20" y2="505.20" stroke="#111" stroke-width="0.9"/>
<line x1="137.40" y1="503.20" x2="137.40" y2="505.20" stroke="#111" stroke-width="0.9"/>
<line x1="152.10" y1="503.20" x2="152.10" y2="505.20" stroke="#111" stroke-width="0.9"/>
<line x1="167.10" y1="503.20" x2="167.10" y2="505.20" stroke="#111" stroke-width="0.9"/>
<line x1="181.80" y1="503.20" x2="181.80" y2="505.20" stroke="#111" stroke-width="0.9"/>
<line x1="197.00" y1="503.20" x2="197.00" y2="505.20" stroke="#111" stroke-width="0.9"/>
<line x1="212.20" y1="503.20" x2="212.20" y2="505.20" stroke="#111" stroke-width="0.9"/>
<line x1="219.60" y1="503.20" x2="219.60" y2="505.20" stroke="#111" stroke-width="0.9"/>
<text x="73.02" y="517.70" font-size="7.5" fill="#111" textLength="9.01" lengthAdjust="spacingAndGlyphs">14</text>
<text x="88.30" y="517.70" font-size="7.5" fill="#111" textLength="9.01" lengthAdjust="spacingAndGlyphs">17</text>
<text x="103.06" y="517.70" font-size="7.5" fill="#111" textLength="9.01" lengthAdjust="spacingAndGlyphs">20</text>
<text x="118.28" y="517.70" font-size="7.5" fill="#111" textLength="9.01" lengthAdjust="spacingAndGlyphs">23</text>
<text x="133.48" y="517.70" font-size="7.5" fill="#111" textLength="9.01" lengthAdjust="spacingAndGlyphs">26</text>
<text x="148.18" y="517.70" font-size="7.5" fill="#111" textLength="9.01" lengthAdjust="spacingAndGlyphs">29</text>
<text x="163.24" y="517.70" font-size="7.5" fill="#111" textLength="9.01" lengthAdjust="spacingAndGlyphs">32</text>
<text x="177.90" y="517.70" font-size="7.5" fill="#111" textLength="9.01" lengthAdjust="spacingAndGlyphs">35</text>
<text x="193.10" y="517.70" font-size="7.5" fill="#111" textLength="9.01" lengthAdjust="spacingAndGlyphs">38</text>
<text x="208.39" y="517.70" font-size="7.5" fill="#111" textLength="9.01" lengthAdjust="spacingAndGlyphs">41</text>
<text x="102.00" y="528.00" font-size="7.0" fill="#111" textLength="83.19" lengthAdjust="spacingAndGlyphs">Days after cell injection</text>
<text transform="translate(30.28,502.40) scale(1.1,1) rotate(-90)" font-size="8.4" fill="#111" textLength="90.57" lengthAdjust="spacingAndGlyphs">Average tumor volume</text>
<text transform="translate(39.52,468.80) rotate(-90)" font-size="8.4" fill="#222" textLength="24" lengthAdjust="spacingAndGlyphs">(mm<tspan font-size="5.2" dy="-3">3</tspan><tspan dy="3">)</tspan></text>
<text x="76.42" y="473.60" font-size="7.6" fill="#111" textLength="41.77" lengthAdjust="spacingAndGlyphs">I.P injection</text>
<text x="76.91" y="482.90" font-size="7.6" fill="#111" textLength="34.69" lengthAdjust="spacingAndGlyphs">start point</text>
<polygon points="73.2,486.6 81.8,486.6 77.5,495.4" fill="#000"/>
<line x1="92.30" y1="493.52" x2="92.30" y2="496.44" stroke="#555" stroke-width="1.0"/>
<line x1="90.50" y1="493.52" x2="94.10" y2="493.52" stroke="#555" stroke-width="1.0"/>
<line x1="90.50" y1="496.44" x2="94.10" y2="496.44" stroke="#555" stroke-width="1.0"/>
<line x1="107.00" y1="491.51" x2="107.00" y2="493.70" stroke="#555" stroke-width="1.0"/>
<line x1="105.20" y1="491.51" x2="108.80" y2="491.51" stroke="#555" stroke-width="1.0"/>
<line x1="105.20" y1="493.70" x2="108.80" y2="493.70" stroke="#555" stroke-width="1.0"/>
<line x1="122.20" y1="487.57" x2="122.20" y2="490.49" stroke="#555" stroke-width="1.0"/>
<line x1="120.40" y1="487.57" x2="124.00" y2="487.57" stroke="#555" stroke-width="1.0"/>
<line x1="120.40" y1="490.49" x2="124.00" y2="490.49" stroke="#555" stroke-width="1.0"/>
<line x1="137.40" y1="482.46" x2="137.40" y2="486.84" stroke="#555" stroke-width="1.0"/>
<line x1="135.60" y1="482.46" x2="139.20" y2="482.46" stroke="#555" stroke-width="1.0"/>
<line x1="135.60" y1="486.84" x2="139.20" y2="486.84" stroke="#555" stroke-width="1.0"/>
<line x1="152.10" y1="471.14" x2="152.10" y2="480.27" stroke="#555" stroke-width="1.0"/>
<line x1="150.30" y1="471.14" x2="153.90" y2="471.14" stroke="#555" stroke-width="1.0"/>
<line x1="150.30" y1="480.27" x2="153.90" y2="480.27" stroke="#555" stroke-width="1.0"/>
<line x1="167.10" y1="457.92" x2="167.10" y2="472.52" stroke="#555" stroke-width="1.0"/>
<line x1="165.30" y1="457.92" x2="168.90" y2="457.92" stroke="#555" stroke-width="1.0"/>
<line x1="165.30" y1="472.52" x2="168.90" y2="472.52" stroke="#555" stroke-width="1.0"/>
<line x1="181.80" y1="447.69" x2="181.80" y2="463.03" stroke="#555" stroke-width="1.0"/>
<line x1="180.00" y1="447.69" x2="183.60" y2="447.69" stroke="#555" stroke-width="1.0"/>
<line x1="180.00" y1="463.03" x2="183.60" y2="463.03" stroke="#555" stroke-width="1.0"/>
<line x1="197.00" y1="434.54" x2="197.00" y2="452.07" stroke="#555" stroke-width="1.0"/>
<line x1="195.20" y1="434.54" x2="198.80" y2="434.54" stroke="#555" stroke-width="1.0"/>
<line x1="195.20" y1="452.07" x2="198.80" y2="452.07" stroke="#555" stroke-width="1.0"/>
<line x1="212.20" y1="420.30" x2="212.20" y2="438.56" stroke="#555" stroke-width="1.0"/>
<line x1="210.40" y1="420.30" x2="214.00" y2="420.30" stroke="#555" stroke-width="1.0"/>
<line x1="210.40" y1="438.56" x2="214.00" y2="438.56" stroke="#555" stroke-width="1.0"/>
<line x1="92.30" y1="494.54" x2="92.30" y2="496.74" stroke="#222" stroke-width="1.0"/>
<line x1="90.50" y1="494.54" x2="94.10" y2="494.54" stroke="#222" stroke-width="1.0"/>
<line x1="90.50" y1="496.74" x2="94.10" y2="496.74" stroke="#222" stroke-width="1.0"/>
<line x1="107.00" y1="491.77" x2="107.00" y2="493.96" stroke="#222" stroke-width="1.0"/>
<line x1="105.20" y1="491.77" x2="108.80" y2="491.77" stroke="#222" stroke-width="1.0"/>
<line x1="105.20" y1="493.96" x2="108.80" y2="493.96" stroke="#222" stroke-width="1.0"/>
<line x1="122.20" y1="483.88" x2="122.20" y2="491.18" stroke="#222" stroke-width="1.0"/>
<line x1="120.40" y1="483.88" x2="124.00" y2="483.88" stroke="#222" stroke-width="1.0"/>
<line x1="120.40" y1="491.18" x2="124.00" y2="491.18" stroke="#222" stroke-width="1.0"/>
<line x1="137.40" y1="474.20" x2="137.40" y2="485.16" stroke="#222" stroke-width="1.0"/>
<line x1="135.60" y1="474.20" x2="139.20" y2="474.20" stroke="#222" stroke-width="1.0"/>
<line x1="135.60" y1="485.16" x2="139.20" y2="485.16" stroke="#222" stroke-width="1.0"/>
<line x1="152.10" y1="467.30" x2="152.10" y2="480.08" stroke="#222" stroke-width="1.0"/>
<line x1="150.30" y1="467.30" x2="153.90" y2="467.30" stroke="#222" stroke-width="1.0"/>
<line x1="150.30" y1="480.08" x2="153.90" y2="480.08" stroke="#222" stroke-width="1.0"/>
<line x1="167.10" y1="458.90" x2="167.10" y2="474.24" stroke="#222" stroke-width="1.0"/>
<line x1="165.30" y1="458.90" x2="168.90" y2="458.90" stroke="#222" stroke-width="1.0"/>
<line x1="165.30" y1="474.24" x2="168.90" y2="474.24" stroke="#222" stroke-width="1.0"/>
<line x1="181.80" y1="450.83" x2="181.80" y2="467.26" stroke="#222" stroke-width="1.0"/>
<line x1="180.00" y1="450.83" x2="183.60" y2="450.83" stroke="#222" stroke-width="1.0"/>
<line x1="180.00" y1="467.26" x2="183.60" y2="467.26" stroke="#222" stroke-width="1.0"/>
<line x1="197.00" y1="437.46" x2="197.00" y2="456.45" stroke="#222" stroke-width="1.0"/>
<line x1="195.20" y1="437.46" x2="198.80" y2="437.46" stroke="#222" stroke-width="1.0"/>
<line x1="195.20" y1="456.45" x2="198.80" y2="456.45" stroke="#222" stroke-width="1.0"/>
<line x1="212.20" y1="430.20" x2="212.20" y2="449.92" stroke="#222" stroke-width="1.0"/>
<line x1="210.40" y1="430.20" x2="214.00" y2="430.20" stroke="#222" stroke-width="1.0"/>
<line x1="210.40" y1="449.92" x2="214.00" y2="449.92" stroke="#222" stroke-width="1.0"/>
<line x1="92.30" y1="495.90" x2="92.30" y2="497.36" stroke="#666" stroke-width="1.0"/>
<line x1="90.50" y1="495.90" x2="94.10" y2="495.90" stroke="#666" stroke-width="1.0"/>
<line x1="90.50" y1="497.36" x2="94.10" y2="497.36" stroke="#666" stroke-width="1.0"/>
<line x1="107.00" y1="493.41" x2="107.00" y2="494.87" stroke="#666" stroke-width="1.0"/>
<line x1="105.20" y1="493.41" x2="108.80" y2="493.41" stroke="#666" stroke-width="1.0"/>
<line x1="105.20" y1="494.87" x2="108.80" y2="494.87" stroke="#666" stroke-width="1.0"/>
<line x1="122.20" y1="485.31" x2="122.20" y2="492.61" stroke="#666" stroke-width="1.0"/>
<line x1="120.40" y1="485.31" x2="124.00" y2="485.31" stroke="#666" stroke-width="1.0"/>
<line x1="120.40" y1="492.61" x2="124.00" y2="492.61" stroke="#666" stroke-width="1.0"/>
<line x1="137.40" y1="483.48" x2="137.40" y2="488.96" stroke="#666" stroke-width="1.0"/>
<line x1="135.60" y1="483.48" x2="139.20" y2="483.48" stroke="#666" stroke-width="1.0"/>
<line x1="135.60" y1="488.96" x2="139.20" y2="488.96" stroke="#666" stroke-width="1.0"/>
<line x1="152.10" y1="478.37" x2="152.10" y2="485.67" stroke="#666" stroke-width="1.0"/>
<line x1="150.30" y1="478.37" x2="153.90" y2="478.37" stroke="#666" stroke-width="1.0"/>
<line x1="150.30" y1="485.67" x2="153.90" y2="485.67" stroke="#666" stroke-width="1.0"/>
<line x1="167.10" y1="468.87" x2="167.10" y2="478.00" stroke="#666" stroke-width="1.0"/>
<line x1="165.30" y1="468.87" x2="168.90" y2="468.87" stroke="#666" stroke-width="1.0"/>
<line x1="165.30" y1="478.00" x2="168.90" y2="478.00" stroke="#666" stroke-width="1.0"/>
<line x1="181.80" y1="459.27" x2="181.80" y2="470.22" stroke="#666" stroke-width="1.0"/>
<line x1="180.00" y1="459.27" x2="183.60" y2="459.27" stroke="#666" stroke-width="1.0"/>
<line x1="180.00" y1="470.22" x2="183.60" y2="470.22" stroke="#666" stroke-width="1.0"/>
<line x1="197.00" y1="449.15" x2="197.00" y2="461.20" stroke="#666" stroke-width="1.0"/>
<line x1="195.20" y1="449.15" x2="198.80" y2="449.15" stroke="#666" stroke-width="1.0"/>
<line x1="195.20" y1="461.20" x2="198.80" y2="461.20" stroke="#666" stroke-width="1.0"/>
<line x1="212.20" y1="431.62" x2="212.20" y2="446.23" stroke="#666" stroke-width="1.0"/>
<line x1="210.40" y1="431.62" x2="214.00" y2="431.62" stroke="#666" stroke-width="1.0"/>
<line x1="210.40" y1="446.23" x2="214.00" y2="446.23" stroke="#666" stroke-width="1.0"/>
<line x1="181.80" y1="481.65" x2="181.80" y2="488.23" stroke="#666" stroke-width="1.0"/>
<line x1="180.00" y1="481.65" x2="183.60" y2="481.65" stroke="#666" stroke-width="1.0"/>
<line x1="180.00" y1="488.23" x2="183.60" y2="488.23" stroke="#666" stroke-width="1.0"/>
<line x1="197.00" y1="470.70" x2="197.00" y2="482.38" stroke="#666" stroke-width="1.0"/>
<line x1="195.20" y1="470.70" x2="198.80" y2="470.70" stroke="#666" stroke-width="1.0"/>
<line x1="195.20" y1="482.38" x2="198.80" y2="482.38" stroke="#666" stroke-width="1.0"/>
<line x1="212.20" y1="459.67" x2="212.20" y2="472.45" stroke="#666" stroke-width="1.0"/>
<line x1="210.40" y1="459.67" x2="214.00" y2="459.67" stroke="#666" stroke-width="1.0"/>
<line x1="210.40" y1="472.45" x2="214.00" y2="472.45" stroke="#666" stroke-width="1.0"/>
<polyline points="77.10,499.55 92.30,496.44 107.00,493.70 122.20,490.49 137.40,486.84 152.10,480.27 167.10,472.52 181.80,463.03 197.00,452.07 212.20,438.56" fill="none" stroke="#888" stroke-width="1.0" stroke-linejoin="round"/>
<circle cx="77.10" cy="499.55" r="2.8" fill="#888" stroke="none" stroke-width="0"/>
<circle cx="92.30" cy="496.44" r="2.8" fill="#888" stroke="none" stroke-width="0"/>
<circle cx="107.00" cy="493.70" r="2.8" fill="#888" stroke="none" stroke-width="0"/>
<circle cx="122.20" cy="490.49" r="2.8" fill="#888" stroke="none" stroke-width="0"/>
<circle cx="137.40" cy="486.84" r="2.8" fill="#888" stroke="none" stroke-width="0"/>
<circle cx="152.10" cy="480.27" r="2.8" fill="#888" stroke="none" stroke-width="0"/>
<circle cx="167.10" cy="472.52" r="2.8" fill="#888" stroke="none" stroke-width="0"/>
<circle cx="181.80" cy="463.03" r="2.8" fill="#888" stroke="none" stroke-width="0"/>
<circle cx="197.00" cy="452.07" r="2.8" fill="#888" stroke="none" stroke-width="0"/>
<circle cx="212.20" cy="438.56" r="2.8" fill="#888" stroke="none" stroke-width="0"/>
<polyline points="77.10,499.73 92.30,496.74 107.00,493.96 122.20,491.18 137.40,485.16 152.10,480.08 167.10,474.24 181.80,467.26 197.00,456.45 212.20,449.92" fill="none" stroke="#000" stroke-width="1.0" stroke-linejoin="round"/>
<circle cx="77.10" cy="499.73" r="2.8" fill="#000" stroke="none" stroke-width="0"/>
<circle cx="92.30" cy="496.74" r="2.8" fill="#000" stroke="none" stroke-width="0"/>
<circle cx="107.00" cy="493.96" r="2.8" fill="#000" stroke="none" stroke-width="0"/>
<circle cx="122.20" cy="491.18" r="2.8" fill="#000" stroke="none" stroke-width="0"/>
<circle cx="137.40" cy="485.16" r="2.8" fill="#000" stroke="none" stroke-width="0"/>
<circle cx="152.10" cy="480.08" r="2.8" fill="#000" stroke="none" stroke-width="0"/>
<circle cx="167.10" cy="474.24" r="2.8" fill="#000" stroke="none" stroke-width="0"/>
<circle cx="181.80" cy="467.26" r="2.8" fill="#000" stroke="none" stroke-width="0"/>
<circle cx="197.00" cy="456.45" r="2.8" fill="#000" stroke="none" stroke-width="0"/>
<circle cx="212.20" cy="449.92" r="2.8" fill="#000" stroke="none" stroke-width="0"/>
<polyline points="77.10,499.99 92.30,497.36 107.00,494.87 122.20,492.61 137.40,488.96 152.10,485.67 167.10,478.00 181.80,470.22 197.00,461.20 212.20,446.23" fill="none" stroke="#999" stroke-width="1.0" stroke-linejoin="round"/>
<circle cx="77.10" cy="499.99" r="2.4" fill="#fff" stroke="#999" stroke-width="0.9"/>
<circle cx="92.30" cy="497.36" r="2.4" fill="#fff" stroke="#999" stroke-width="0.9"/>
<circle cx="107.00" cy="494.87" r="2.4" fill="#fff" stroke="#999" stroke-width="0.9"/>
<circle cx="122.20" cy="492.61" r="2.4" fill="#fff" stroke="#999" stroke-width="0.9"/>
<circle cx="137.40" cy="488.96" r="2.4" fill="#fff" stroke="#999" stroke-width="0.9"/>
<circle cx="152.10" cy="485.67" r="2.4" fill="#fff" stroke="#999" stroke-width="0.9"/>
<circle cx="167.10" cy="478.00" r="2.4" fill="#fff" stroke="#999" stroke-width="0.9"/>
<circle cx="181.80" cy="470.22" r="2.4" fill="#fff" stroke="#999" stroke-width="0.9"/>
<circle cx="197.00" cy="461.20" r="2.4" fill="#fff" stroke="#999" stroke-width="0.9"/>
<circle cx="212.20" cy="446.23" r="2.4" fill="#fff" stroke="#999" stroke-width="0.9"/>
<polyline points="77.10,501.63 92.30,502.80 107.00,502.80 122.20,501.41 137.40,498.63 152.10,495.17 167.10,492.10 181.80,488.23 197.00,482.38 212.20,472.45" fill="none" stroke="#5555f4" stroke-width="1.0" stroke-linejoin="round"/>
<circle cx="77.10" cy="501.63" r="2.8" fill="#5555f4" stroke="none" stroke-width="0"/>
<circle cx="92.30" cy="502.80" r="2.8" fill="#5555f4" stroke="none" stroke-width="0"/>
<circle cx="107.00" cy="502.80" r="2.8" fill="#5555f4" stroke="none" stroke-width="0"/>
<circle cx="122.20" cy="501.41" r="2.8" fill="#5555f4" stroke="none" stroke-width="0"/>
<circle cx="137.40" cy="498.63" r="2.8" fill="#5555f4" stroke="none" stroke-width="0"/>
<circle cx="152.10" cy="495.17" r="2.8" fill="#5555f4" stroke="none" stroke-width="0"/>
<circle cx="167.10" cy="492.10" r="2.8" fill="#5555f4" stroke="none" stroke-width="0"/>
<circle cx="181.80" cy="488.23" r="2.8" fill="#5555f4" stroke="none" stroke-width="0"/>
<circle cx="197.00" cy="482.38" r="2.8" fill="#5555f4" stroke="none" stroke-width="0"/>
<circle cx="212.20" cy="472.45" r="2.8" fill="#5555f4" stroke="none" stroke-width="0"/>
<polyline points="77.10,500.94 92.30,499.73 107.00,499.04 122.20,498.12 137.40,495.86 152.10,490.49 167.10,483.04 181.80,473.55 197.00,458.06 212.20,444.84" fill="none" stroke="#fbb800" stroke-width="1.0" stroke-linejoin="round"/>
<circle cx="77.10" cy="500.94" r="2.8" fill="#fbb800" stroke="none" stroke-width="0"/>
<circle cx="92.30" cy="499.73" r="2.8" fill="#fbb800" stroke="none" stroke-width="0"/>
<circle cx="107.00" cy="499.04" r="2.8" fill="#fbb800" stroke="none" stroke-width="0"/>
<circle cx="122.20" cy="498.12" r="2.8" fill="#fbb800" stroke="none" stroke-width="0"/>
<circle cx="137.40" cy="495.86" r="2.8" fill="#fbb800" stroke="none" stroke-width="0"/>
<circle cx="152.10" cy="490.49" r="2.8" fill="#fbb800" stroke="none" stroke-width="0"/>
<circle cx="167.10" cy="483.04" r="2.8" fill="#fbb800" stroke="none" stroke-width="0"/>
<circle cx="181.80" cy="473.55" r="2.8" fill="#fbb800" stroke="none" stroke-width="0"/>
<circle cx="197.00" cy="458.06" r="2.8" fill="#fbb800" stroke="none" stroke-width="0"/>
<circle cx="212.20" cy="444.84" r="2.8" fill="#fbb800" stroke="none" stroke-width="0"/>
<line x1="220.10" y1="432.00" x2="239.80" y2="432.00" stroke="#000" stroke-width="1.0"/>
<circle cx="230.00" cy="432.00" r="1.7" fill="#000" stroke="none" stroke-width="0"/>
<text x="245.39" y="435.30" font-size="6.4" fill="#111" textLength="21.12" lengthAdjust="spacingAndGlyphs">DMSO</text>
<line x1="220.10" y1="442.10" x2="239.80" y2="442.10" stroke="#888" stroke-width="1.0"/>
<circle cx="230.00" cy="442.10" r="1.7" fill="#888" stroke="none" stroke-width="0"/>
<text x="245.39" y="445.00" font-size="6.4" fill="#111" textLength="33.85" lengthAdjust="spacingAndGlyphs">Darapladib</text>
<line x1="220.10" y1="451.90" x2="239.80" y2="451.90" stroke="#999" stroke-width="1.0"/>
<circle cx="230.00" cy="451.90" r="1.5" fill="#fff" stroke="#999" stroke-width="0.8"/>
<text x="245.38" y="454.40" font-size="6.4" fill="#111" textLength="32.79" lengthAdjust="spacingAndGlyphs">PACMA31</text>
<line x1="220.10" y1="462.00" x2="239.80" y2="462.00" stroke="#5555f4" stroke-width="1.0"/>
<circle cx="230.00" cy="462.00" r="1.7" fill="#5555f4" stroke="none" stroke-width="0"/>
<text x="245.39" y="464.40" font-size="6.4" fill="#111" textLength="74.59" lengthAdjust="spacingAndGlyphs">Darapladib + PACMA31</text>
<line x1="220.10" y1="471.60" x2="239.80" y2="471.60" stroke="#fbb800" stroke-width="1.0"/>
<circle cx="230.00" cy="471.60" r="1.7" fill="#fbb800" stroke="none" stroke-width="0"/>
<text x="245.38" y="474.00" font-size="6.4" fill="#111" textLength="99.78" lengthAdjust="spacingAndGlyphs">Darapladib + PACMA31 + Fer-1</text>
<line x1="406.60" y1="498.90" x2="406.60" y2="427.40" stroke="#111" stroke-width="1.0"/>
<line x1="404.80" y1="498.40" x2="406.60" y2="498.40" stroke="#111" stroke-width="0.9"/>
<text x="400.73" y="500.70" font-size="6.6" fill="#111" textLength="3.85" lengthAdjust="spacingAndGlyphs">0</text>
<line x1="404.80" y1="480.65" x2="406.60" y2="480.65" stroke="#111" stroke-width="0.9"/>
<text x="400.77" y="482.95" font-size="6.6" fill="#111" textLength="3.85" lengthAdjust="spacingAndGlyphs">1</text>
<line x1="404.80" y1="462.90" x2="406.60" y2="462.90" stroke="#111" stroke-width="0.9"/>
<text x="400.80" y="465.20" font-size="6.6" fill="#111" textLength="3.85" lengthAdjust="spacingAndGlyphs">2</text>
<line x1="404.80" y1="445.15" x2="406.60" y2="445.15" stroke="#111" stroke-width="0.9"/>
<text x="400.77" y="447.45" font-size="6.6" fill="#111" textLength="3.85" lengthAdjust="spacingAndGlyphs">3</text>
<line x1="404.80" y1="427.40" x2="406.60" y2="427.40" stroke="#111" stroke-width="0.9"/>
<text x="400.66" y="429.70" font-size="6.6" fill="#111" textLength="3.85" lengthAdjust="spacingAndGlyphs">4</text>
<line x1="406.60" y1="498.40" x2="478.00" y2="498.40" stroke="#111" stroke-width="1.0"/>
<line x1="414.30" y1="498.40" x2="414.30" y2="500.20" stroke="#555" stroke-width="0.8"/>
<line x1="428.40" y1="498.40" x2="428.40" y2="500.20" stroke="#555" stroke-width="0.8"/>
<line x1="442.40" y1="498.40" x2="442.40" y2="500.20" stroke="#555" stroke-width="0.8"/>
<line x1="456.40" y1="498.40" x2="456.40" y2="500.20" stroke="#555" stroke-width="0.8"/>
<line x1="470.40" y1="498.40" x2="470.40" y2="500.20" stroke="#555" stroke-width="0.8"/>
<line x1="478.00" y1="498.40" x2="478.00" y2="500.20" stroke="#555" stroke-width="0.8"/>
<text transform="translate(397.54,493.53) scale(1.1,1) rotate(-90)" font-size="8.6" fill="#111" textLength="64.37" lengthAdjust="spacingAndGlyphs">Tumor mass (g)</text>
<circle cx="414.60" cy="456.15" r="0.85" fill="#222" stroke="none" stroke-width="0"/>
<circle cx="411.50" cy="458.28" r="0.85" fill="#222" stroke="none" stroke-width="0"/>
<circle cx="417.10" cy="459.00" r="0.85" fill="#222" stroke="none" stroke-width="0"/>
<circle cx="410.70" cy="461.48" r="0.85" fill="#222" stroke="none" stroke-width="0"/>
<circle cx="412.10" cy="464.67" r="0.85" fill="#222" stroke="none" stroke-width="0"/>
<circle cx="416.70" cy="465.03" r="0.85" fill="#222" stroke="none" stroke-width="0"/>
<line x1="414.30" y1="457.40" x2="414.30" y2="464.14" stroke="#111" stroke-width="0.9"/>
<line x1="412.00" y1="457.40" x2="416.60" y2="457.40" stroke="#111" stroke-width="0.9"/>
<line x1="412.00" y1="464.14" x2="416.60" y2="464.14" stroke="#111" stroke-width="0.9"/>
<line x1="410.70" y1="460.77" x2="417.90" y2="460.77" stroke="#111" stroke-width="0.9"/>
<circle cx="426.20" cy="444.26" r="0.85" fill="#888" stroke="none" stroke-width="0"/>
<circle cx="430.90" cy="444.26" r="0.85" fill="#888" stroke="none" stroke-width="0"/>
<circle cx="426.20" cy="450.47" r="0.85" fill="#888" stroke="none" stroke-width="0"/>
<circle cx="430.60" cy="450.47" r="0.85" fill="#888" stroke="none" stroke-width="0"/>
<circle cx="426.20" cy="467.87" r="0.85" fill="#888" stroke="none" stroke-width="0"/>
<circle cx="430.90" cy="468.76" r="0.85" fill="#888" stroke="none" stroke-width="0"/>
<circle cx="428.40" cy="443.38" r="0.85" fill="#888" stroke="none" stroke-width="0"/>
<line x1="428.40" y1="443.55" x2="428.40" y2="464.85" stroke="#444" stroke-width="0.9"/>
<line x1="426.10" y1="443.55" x2="430.70" y2="443.55" stroke="#444" stroke-width="0.9"/>
<line x1="426.10" y1="464.85" x2="430.70" y2="464.85" stroke="#444" stroke-width="0.9"/>
<line x1="424.80" y1="454.20" x2="432.00" y2="454.20" stroke="#444" stroke-width="0.9"/>
<circle cx="442.40" cy="451.72" r="0.85" fill="#aaa" stroke="none" stroke-width="0"/>
<circle cx="442.40" cy="457.57" r="0.85" fill="#aaa" stroke="none" stroke-width="0"/>
<circle cx="439.40" cy="464.14" r="0.85" fill="#aaa" stroke="none" stroke-width="0"/>
<circle cx="445.40" cy="464.14" r="0.85" fill="#aaa" stroke="none" stroke-width="0"/>
<circle cx="440.90" cy="468.76" r="0.85" fill="#aaa" stroke="none" stroke-width="0"/>
<circle cx="442.40" cy="472.66" r="0.85" fill="#aaa" stroke="none" stroke-width="0"/>
<circle cx="443.90" cy="470.89" r="0.85" fill="#aaa" stroke="none" stroke-width="0"/>
<line x1="442.40" y1="456.51" x2="442.40" y2="471.77" stroke="#444" stroke-width="0.9"/>
<line x1="440.10" y1="456.51" x2="444.70" y2="456.51" stroke="#444" stroke-width="0.9"/>
<line x1="440.10" y1="471.77" x2="444.70" y2="471.77" stroke="#444" stroke-width="0.9"/>
<line x1="438.80" y1="464.14" x2="446.00" y2="464.14" stroke="#444" stroke-width="0.9"/>
<circle cx="454.20" cy="476.03" r="0.85" fill="#5555f4" stroke="none" stroke-width="0"/>
<circle cx="458.90" cy="475.68" r="0.85" fill="#5555f4" stroke="none" stroke-width="0"/>
<circle cx="452.90" cy="479.76" r="0.85" fill="#5555f4" stroke="none" stroke-width="0"/>
<circle cx="458.40" cy="480.65" r="0.85" fill="#5555f4" stroke="none" stroke-width="0"/>
<circle cx="454.70" cy="483.31" r="0.85" fill="#5555f4" stroke="none" stroke-width="0"/>
<circle cx="457.90" cy="487.39" r="0.85" fill="#5555f4" stroke="none" stroke-width="0"/>
<circle cx="454.20" cy="487.39" r="0.85" fill="#5555f4" stroke="none" stroke-width="0"/>
<circle cx="456.70" cy="492.19" r="0.85" fill="#5555f4" stroke="none" stroke-width="0"/>
<line x1="456.40" y1="475.50" x2="456.40" y2="490.06" stroke="#5555f4" stroke-width="0.9"/>
<line x1="454.10" y1="475.50" x2="458.70" y2="475.50" stroke="#5555f4" stroke-width="0.9"/>
<line x1="454.10" y1="490.06" x2="458.70" y2="490.06" stroke="#5555f4" stroke-width="0.9"/>
<line x1="452.80" y1="482.78" x2="460.00" y2="482.78" stroke="#5555f4" stroke-width="0.9"/>
<circle cx="470.40" cy="447.81" r="0.85" fill="#f5a043" stroke="none" stroke-width="0"/>
<circle cx="467.60" cy="458.46" r="0.85" fill="#f5a043" stroke="none" stroke-width="0"/>
<circle cx="472.90" cy="460.24" r="0.85" fill="#f5a043" stroke="none" stroke-width="0"/>
<circle cx="470.40" cy="471.77" r="0.85" fill="#f5a043" stroke="none" stroke-width="0"/>
<circle cx="470.40" cy="477.99" r="0.85" fill="#f5a043" stroke="none" stroke-width="0"/>
<line x1="470.40" y1="451.54" x2="470.40" y2="475.32" stroke="#555" stroke-width="0.9"/>
<line x1="468.10" y1="451.54" x2="472.70" y2="451.54" stroke="#555" stroke-width="0.9"/>
<line x1="468.10" y1="475.32" x2="472.70" y2="475.32" stroke="#555" stroke-width="0.9"/>
<line x1="466.80" y1="463.43" x2="474.00" y2="463.43" stroke="#555" stroke-width="0.9"/>
<polyline points="414.2,445.5 414.2,427.2 455.6,427.2 455.6,466.6" fill="none" stroke="#333" stroke-width="1.0"/>
<polyline points="457.7,466.6 457.7,427.2 472.0,427.2 472.0,433.6" fill="none" stroke="#333" stroke-width="1.0"/>
<text x="420.15" y="423.80" font-size="5.2" font-weight="bold" font-style="italic" fill="#111" textLength="3.34" lengthAdjust="spacingAndGlyphs">p</text>
<text x="424.98" y="423.80" font-size="5.2" fill="#111" textLength="21.22" lengthAdjust="spacingAndGlyphs">&lt; 0.0001</text>
<text x="469.85" y="440.70" font-size="5.2" font-weight="bold" font-style="italic" fill="#111" textLength="3.34" lengthAdjust="spacingAndGlyphs">p</text>
<text x="474.70" y="440.70" font-size="5.2" fill="#111" textLength="19.58" lengthAdjust="spacingAndGlyphs">= 0.0091</text>
<line x1="414.40" y1="509.00" x2="417.00" y2="509.00" stroke="#333" stroke-width="0.9"/>
<line x1="426.70" y1="509.00" x2="431.10" y2="509.00" stroke="#111" stroke-width="1.0"/>
<line x1="428.90" y1="506.80" x2="428.90" y2="511.20" stroke="#111" stroke-width="1.0"/>
<line x1="442.90" y1="509.00" x2="445.50" y2="509.00" stroke="#333" stroke-width="0.9"/>
<line x1="457.10" y1="509.00" x2="461.50" y2="509.00" stroke="#111" stroke-width="1.0"/>
<line x1="459.30" y1="506.80" x2="459.30" y2="511.20" stroke="#111" stroke-width="1.0"/>
<line x1="470.80" y1="509.00" x2="475.20" y2="509.00" stroke="#111" stroke-width="1.0"/>
<line x1="473.00" y1="506.80" x2="473.00" y2="511.20" stroke="#111" stroke-width="1.0"/>
<line x1="414.40" y1="517.10" x2="417.00" y2="517.10" stroke="#333" stroke-width="0.9"/>
<line x1="427.60" y1="517.10" x2="430.20" y2="517.10" stroke="#333" stroke-width="0.9"/>
<line x1="442.00" y1="517.10" x2="446.40" y2="517.10" stroke="#111" stroke-width="1.0"/>
<line x1="444.20" y1="514.90" x2="444.20" y2="519.30" stroke="#111" stroke-width="1.0"/>
<line x1="457.10" y1="517.10" x2="461.50" y2="517.10" stroke="#111" stroke-width="1.0"/>
<line x1="459.30" y1="514.90" x2="459.30" y2="519.30" stroke="#111" stroke-width="1.0"/>
<line x1="470.80" y1="517.10" x2="475.20" y2="517.10" stroke="#111" stroke-width="1.0"/>
<line x1="473.00" y1="514.90" x2="473.00" y2="519.30" stroke="#111" stroke-width="1.0"/>
<line x1="414.40" y1="524.70" x2="417.00" y2="524.70" stroke="#333" stroke-width="0.9"/>
<line x1="427.60" y1="524.70" x2="430.20" y2="524.70" stroke="#333" stroke-width="0.9"/>
<line x1="442.90" y1="524.70" x2="445.50" y2="524.70" stroke="#333" stroke-width="0.9"/>
<line x1="458.00" y1="524.70" x2="460.60" y2="524.70" stroke="#333" stroke-width="0.9"/>
<line x1="470.80" y1="524.70" x2="475.20" y2="524.70" stroke="#111" stroke-width="1.0"/>
<line x1="473.00" y1="522.50" x2="473.00" y2="526.90" stroke="#111" stroke-width="1.0"/>
<text x="356.82" y="511.00" font-size="8.4" fill="#111" textLength="44.11" lengthAdjust="spacingAndGlyphs">Darapladib</text>
<text x="358.71" y="519.90" font-size="8.4" fill="#111" textLength="42.24" lengthAdjust="spacingAndGlyphs">PACMA31</text>
<text x="380.05" y="527.50" font-size="8.4" fill="#111" textLength="20.89" lengthAdjust="spacingAndGlyphs">Fer-1</text>
</svg></body></html>
